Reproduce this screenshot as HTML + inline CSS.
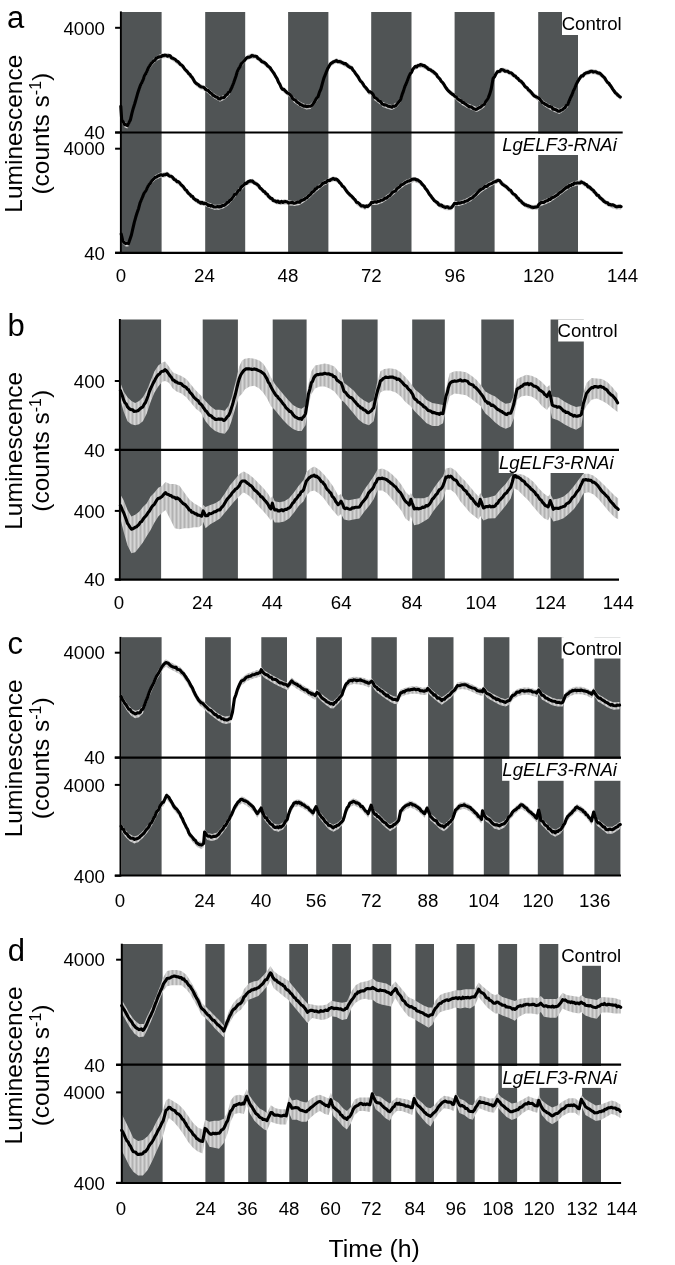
<!DOCTYPE html>
<html><head><meta charset="utf-8"><style>
html,body{margin:0;padding:0;background:#fff;}
svg{display:block;will-change:transform;}
text{font-family:"Liberation Sans", sans-serif;fill:#000;}
</style></head><body>
<svg width="675" height="1265" viewBox="0 0 675 1265">
<rect width="675" height="1265" fill="#fff"/>
<defs><pattern id="eb" width="4" height="10" patternUnits="userSpaceOnUse"><rect width="4" height="10" fill="#c4c4c4"/><rect width="1" height="10" fill="#b2b2b2"/><rect x="2" width="1" height="10" fill="#d6d6d6"/></pattern></defs>
<g>
<rect x="121.5" y="12" width="40.1" height="240.8" fill="#505455"/>
<rect x="205.2" y="12" width="40.0" height="240.8" fill="#505455"/>
<rect x="288.1" y="12" width="40.3" height="240.8" fill="#505455"/>
<rect x="371.2" y="12" width="40.3" height="240.8" fill="#505455"/>
<rect x="454.6" y="12" width="40.0" height="240.8" fill="#505455"/>
<rect x="538.2" y="12" width="39.8" height="240.8" fill="#505455"/>
<rect x="562" y="12" width="68.0" height="23.0" fill="#fff"/>
<rect x="500" y="133.5" width="130.0" height="21.5" fill="#fff"/>
<path d="M120.8,104.0 L121.7,117.5 L124.6,122.3 L127.5,123.3 L130.4,117.5 L133.3,105.9 L136.2,96.3 L139.1,86.7 L142.0,79.9 L145.8,71.3 L149.7,63.6 L153.5,58.7 L157.4,55.5 L162.2,53.3 L166.0,53.0 L168.9,53.3 L172.8,55.9 L176.6,58.7 L181.4,62.6 L186.3,68.4 L191.1,74.1 L194.9,79.9 L199.7,83.8 L204.6,85.7 L209.4,89.6 L214.2,93.4 L220.0,96.7 L224.8,94.4 L229.6,89.6 L233.5,80.9 L237.3,69.3 L241.2,61.6 L242.9,59.7 L246.7,55.5 L251.6,53.3 L255.4,53.9 L259.3,56.8 L264.1,60.1 L268.9,64.5 L272.7,69.3 L275.6,74.1 L278.5,79.9 L281.4,85.7 L285.3,88.6 L287.2,90.5 L290.1,92.4 L293.9,97.3 L297.8,100.1 L301.6,102.5 L306.4,104.4 L310.3,104.0 L314.2,100.1 L318.0,94.4 L320.9,86.7 L323.8,76.1 L327.6,66.4 L331.5,60.7 L336.3,58.2 L341.1,59.7 L346.9,62.6 L351.7,65.5 L355.6,71.3 L359.4,77.0 L364.2,83.8 L368.9,89.6 L371.7,90.5 L374.6,95.3 L378.5,98.2 L383.3,102.1 L388.1,104.0 L392.0,105.0 L396.8,102.1 L400.6,97.3 L403.5,88.6 L406.4,80.9 L410.3,71.3 L414.1,65.5 L418.0,63.2 L421.8,62.6 L425.7,64.5 L430.5,67.4 L435.3,71.3 L440.1,77.0 L444.9,83.8 L449.7,89.6 L453.6,92.4 L457.5,96.3 L462.3,100.1 L467.1,103.0 L471.9,105.0 L476.7,106.9 L480.6,105.0 L484.4,102.1 L488.3,95.3 L491.2,86.7 L493.1,76.2 L497.3,69.5 L502.4,67.4 L507.6,68.9 L512.8,72.0 L518.0,76.2 L523.2,81.3 L528.4,87.6 L532.5,91.7 L536.7,94.8 L539.8,96.9 L543.9,101.0 L549.1,104.2 L554.3,106.8 L559.5,108.9 L563.6,106.2 L567.8,102.1 L571.9,92.7 L576.1,82.4 L580.2,75.1 L585.4,71.0 L590.6,68.9 L595.8,69.5 L601.0,72.0 L606.2,78.2 L611.3,84.4 L615.5,90.7 L620.3,94.8 L620.3,99.9 L615.5,95.8 L611.3,89.5 L606.2,83.3 L601.0,77.1 L595.8,74.6 L590.6,74.0 L585.4,76.1 L580.2,80.2 L576.1,87.5 L571.9,97.8 L567.8,107.2 L563.6,111.3 L559.5,114.0 L554.3,111.9 L549.1,109.3 L543.9,106.1 L539.8,102.0 L536.7,99.9 L532.5,96.8 L528.4,92.7 L523.2,86.4 L518.0,81.3 L512.8,77.1 L507.6,74.0 L502.4,72.5 L497.3,74.6 L493.1,81.3 L491.2,91.8 L488.3,100.4 L484.4,107.2 L480.6,110.1 L476.7,112.0 L471.9,110.1 L467.1,108.1 L462.3,105.2 L457.5,101.4 L453.6,97.5 L449.7,94.7 L444.9,88.9 L440.1,82.1 L435.3,76.4 L430.5,72.5 L425.7,69.6 L421.8,67.7 L418.0,68.3 L414.1,70.6 L410.3,76.4 L406.4,86.0 L403.5,93.7 L400.6,102.4 L396.8,107.2 L392.0,110.1 L388.1,109.1 L383.3,107.2 L378.5,103.3 L374.6,100.4 L371.7,95.6 L368.9,94.7 L364.2,88.9 L359.4,82.1 L355.6,76.4 L351.7,70.6 L346.9,67.7 L341.1,64.8 L336.3,63.3 L331.5,65.8 L327.6,71.5 L323.8,81.2 L320.9,91.8 L318.0,99.5 L314.2,105.2 L310.3,109.1 L306.4,109.5 L301.6,107.6 L297.8,105.2 L293.9,102.4 L290.1,97.5 L287.2,95.6 L285.3,93.7 L281.4,90.8 L278.5,85.0 L275.6,79.2 L272.7,74.4 L268.9,69.6 L264.1,65.2 L259.3,61.9 L255.4,59.0 L251.6,58.4 L246.7,60.6 L242.9,64.8 L241.2,66.7 L237.3,74.4 L233.5,86.0 L229.6,94.7 L224.8,99.5 L220.0,101.8 L214.2,98.5 L209.4,94.7 L204.6,90.8 L199.7,88.9 L194.9,85.0 L191.1,79.2 L186.3,73.5 L181.4,67.7 L176.6,63.8 L172.8,61.0 L168.9,58.4 L166.0,58.1 L162.2,58.4 L157.4,60.6 L153.5,63.8 L149.7,68.7 L145.8,76.4 L142.0,85.0 L139.1,91.8 L136.2,101.4 L133.3,111.0 L130.4,122.6 L127.5,128.4 L124.6,127.4 L121.7,122.6 L120.8,109.1 Z" fill="url(#eb)" />
<path d="M120.8,106.3 L121.7,119.8 L123.2,121.9 L124.6,124.6 L126.0,124.6 L127.5,125.6 L128.9,122.9 L130.4,119.8 L131.9,113.4 L133.3,108.2 L134.8,103.5 L136.2,98.6 L137.6,93.6 L139.1,89.0 L140.6,84.9 L142.0,82.2 L143.3,79.3 L144.5,75.8 L145.8,73.6 L147.1,70.9 L148.4,67.8 L149.7,65.9 L151.0,63.7 L152.2,62.5 L153.5,61.0 L154.8,60.4 L156.1,58.3 L157.4,57.8 L158.6,56.8 L159.8,56.9 L161.0,56.8 L162.2,55.6 L163.5,55.6 L164.7,55.2 L166.0,55.3 L167.4,56.2 L168.9,55.6 L170.2,55.8 L171.5,57.9 L172.8,58.2 L174.1,58.8 L175.3,59.5 L176.6,61.0 L177.8,61.4 L179.0,62.7 L180.2,64.4 L181.4,64.9 L182.6,65.9 L183.9,67.9 L185.1,69.5 L186.3,70.7 L187.5,71.9 L188.7,73.6 L189.9,74.3 L191.1,76.4 L192.4,77.7 L193.6,79.8 L194.9,82.2 L196.1,83.4 L197.3,84.0 L198.5,84.8 L199.7,86.1 L200.9,86.7 L202.1,87.0 L203.4,87.2 L204.6,88.0 L205.8,89.4 L207.0,90.2 L208.2,90.5 L209.4,91.9 L210.6,93.0 L211.8,93.8 L213.0,95.3 L214.2,95.7 L215.6,96.9 L217.1,97.0 L218.6,98.9 L220.0,99.0 L221.2,97.9 L222.4,97.7 L223.6,97.7 L224.8,96.7 L226.0,95.0 L227.2,94.3 L228.4,92.4 L229.6,91.9 L230.9,89.3 L232.2,86.5 L233.5,83.2 L234.8,79.4 L236.0,76.0 L237.3,71.6 L238.6,68.8 L239.9,66.8 L241.2,63.9 L242.9,62.0 L244.2,60.7 L245.4,59.3 L246.7,57.8 L247.9,57.2 L249.1,57.2 L250.4,56.8 L251.6,55.6 L252.9,55.8 L254.1,56.2 L255.4,56.2 L256.7,56.5 L258.0,58.4 L259.3,59.1 L260.5,60.1 L261.7,61.5 L262.9,62.1 L264.1,62.4 L265.3,63.2 L266.5,64.4 L267.7,66.0 L268.9,66.8 L270.2,67.7 L271.4,69.9 L272.7,71.6 L274.1,73.5 L275.6,76.4 L277.1,78.7 L278.5,82.2 L279.9,84.4 L281.4,88.0 L282.7,89.4 L284.0,89.4 L285.3,90.9 L287.2,92.8 L288.6,93.4 L290.1,94.7 L291.4,96.2 L292.6,98.5 L293.9,99.6 L295.2,99.9 L296.5,101.4 L297.8,102.4 L299.1,103.3 L300.3,104.6 L301.6,104.8 L302.8,105.8 L304.0,106.3 L305.2,105.9 L306.4,106.7 L307.7,106.4 L309.0,106.2 L310.3,106.3 L311.6,105.6 L312.9,104.4 L314.2,102.4 L315.5,100.0 L316.7,98.1 L318.0,96.7 L319.4,92.4 L320.9,89.0 L322.4,83.3 L323.8,78.4 L325.1,75.1 L326.3,72.1 L327.6,68.7 L328.9,66.4 L330.2,64.2 L331.5,63.0 L332.7,62.3 L333.9,61.6 L335.1,61.2 L336.3,60.5 L337.5,61.6 L338.7,61.5 L339.9,61.6 L341.1,62.0 L342.6,62.9 L344.0,63.7 L345.4,63.5 L346.9,64.9 L348.1,66.2 L349.3,66.8 L350.5,67.6 L351.7,67.8 L353.0,70.2 L354.3,71.5 L355.6,73.6 L356.9,75.3 L358.1,76.8 L359.4,79.3 L360.6,81.2 L361.8,82.0 L363.0,83.8 L364.2,86.1 L365.4,87.1 L366.5,88.5 L367.7,90.2 L368.9,91.9 L370.3,91.7 L371.7,92.8 L373.1,94.5 L374.6,97.6 L375.9,98.0 L377.2,98.9 L378.5,100.5 L379.7,101.3 L380.9,101.7 L382.1,104.0 L383.3,104.4 L384.5,105.0 L385.7,104.8 L386.9,105.5 L388.1,106.3 L389.4,106.4 L390.7,106.8 L392.0,107.3 L393.2,106.0 L394.4,106.4 L395.6,105.9 L396.8,104.4 L398.1,102.7 L399.3,101.2 L400.6,99.6 L402.1,94.6 L403.5,90.9 L404.9,86.5 L406.4,83.2 L407.7,79.8 L409.0,76.4 L410.3,73.6 L411.6,72.2 L412.8,69.2 L414.1,67.8 L415.4,66.3 L416.7,66.9 L418.0,65.5 L419.3,65.3 L420.5,64.6 L421.8,64.9 L423.1,65.6 L424.4,65.5 L425.7,66.8 L426.9,67.6 L428.1,69.0 L429.3,69.5 L430.5,69.7 L431.7,71.0 L432.9,71.3 L434.1,72.4 L435.3,73.6 L436.5,74.5 L437.7,76.9 L438.9,77.9 L440.1,79.3 L441.3,81.4 L442.5,82.4 L443.7,84.0 L444.9,86.1 L446.1,88.0 L447.3,89.7 L448.5,91.0 L449.7,91.9 L451.0,93.3 L452.3,94.2 L453.6,94.7 L454.9,96.4 L456.2,96.9 L457.5,98.6 L458.7,99.6 L459.9,100.3 L461.1,100.7 L462.3,102.4 L463.5,102.4 L464.7,103.5 L465.9,104.2 L467.1,105.3 L468.3,106.1 L469.5,107.0 L470.7,106.7 L471.9,107.3 L473.1,108.4 L474.3,109.0 L475.5,109.4 L476.7,109.2 L478.0,108.4 L479.3,107.5 L480.6,107.3 L481.9,105.9 L483.1,104.9 L484.4,104.4 L485.7,101.7 L487.0,100.1 L488.3,97.6 L489.8,93.9 L491.2,89.0 L493.1,78.5 L494.5,76.8 L495.9,74.0 L497.3,71.8 L498.6,71.5 L499.9,71.2 L501.1,69.6 L502.4,69.7 L503.7,70.3 L505.0,71.1 L506.3,71.2 L507.6,71.2 L508.9,72.4 L510.2,72.7 L511.5,73.0 L512.8,74.3 L514.1,75.8 L515.4,76.1 L516.7,77.9 L518.0,78.5 L519.3,80.5 L520.6,80.9 L521.9,82.2 L523.2,83.6 L524.5,85.8 L525.8,87.1 L527.1,87.8 L528.4,89.9 L529.8,90.7 L531.1,92.1 L532.5,94.0 L533.9,95.6 L535.3,96.5 L536.7,97.1 L538.2,97.6 L539.8,99.2 L541.2,101.1 L542.5,102.7 L543.9,103.3 L545.2,104.3 L546.5,104.7 L547.8,105.8 L549.1,106.5 L550.4,106.6 L551.7,107.1 L553.0,109.2 L554.3,109.1 L555.6,109.8 L556.9,110.2 L558.2,111.3 L559.5,111.2 L560.9,110.2 L562.2,110.0 L563.6,108.5 L565.0,107.6 L566.4,105.3 L567.8,104.4 L569.2,100.9 L570.5,97.8 L571.9,95.0 L573.3,91.2 L574.7,88.3 L576.1,84.7 L577.5,81.9 L578.8,79.7 L580.2,77.4 L581.5,75.8 L582.8,76.0 L584.1,74.1 L585.4,73.3 L586.7,72.7 L588.0,72.4 L589.3,72.3 L590.6,71.2 L591.9,71.2 L593.2,72.1 L594.5,71.7 L595.8,71.8 L597.1,72.5 L598.4,73.1 L599.7,73.0 L601.0,74.3 L602.3,75.8 L603.6,76.9 L604.9,78.2 L606.2,80.5 L607.5,82.5 L608.8,83.1 L610.0,85.1 L611.3,86.7 L612.7,89.1 L614.1,91.0 L615.5,93.0 L616.7,93.8 L617.9,95.1 L619.1,96.2 L620.3,97.1" fill="none" stroke="#000" stroke-width="3.1" stroke-linejoin="round" stroke-linecap="round"/>
<path d="M121.2,231.7 L122.7,238.4 L125.6,241.3 L128.5,241.3 L131.4,232.7 L134.3,220.1 L137.1,210.5 L140.0,200.9 L143.9,191.3 L147.7,184.5 L151.6,178.7 L155.4,174.9 L160.3,172.6 L164.1,172.4 L167.0,171.6 L170.9,173.9 L175.7,177.8 L180.5,181.6 L185.3,187.4 L190.1,192.2 L194.9,197.0 L199.7,199.9 L204.6,200.9 L209.4,202.8 L214.2,204.7 L219.0,204.7 L223.8,203.2 L228.6,199.9 L233.5,194.1 L238.3,188.4 L243.9,182.6 L247.7,179.7 L252.5,178.7 L256.4,181.6 L261.2,186.4 L266.0,191.3 L270.8,196.1 L275.6,199.0 L280.4,199.9 L285.3,199.3 L290.1,200.5 L294.9,200.9 L299.7,199.9 L304.5,197.0 L309.3,193.2 L314.2,188.4 L319.0,184.5 L323.8,180.7 L328.6,178.2 L333.4,176.2 L337.3,177.4 L341.1,181.6 L345.0,186.4 L348.8,191.3 L352.7,195.1 L356.5,199.9 L360.4,202.8 L365.0,204.7 L368.9,203.2 L371.7,199.9 L376.6,199.9 L382.3,198.0 L388.1,194.1 L393.9,189.3 L399.7,184.5 L405.4,180.1 L410.3,178.2 L414.1,176.8 L418.9,178.7 L422.8,182.6 L426.6,187.4 L430.5,193.2 L435.3,199.0 L440.1,202.8 L445.9,205.1 L451.7,205.1 L454.6,200.9 L459.4,200.9 L465.2,199.0 L470.9,196.1 L476.7,191.3 L482.5,186.4 L488.3,182.6 L494.1,179.6 L498.3,177.9 L501.4,180.6 L506.6,184.7 L511.8,189.9 L517.0,195.1 L522.2,200.3 L527.3,203.4 L532.5,204.9 L537.7,204.4 L539.8,201.3 L545.0,199.3 L550.2,197.2 L555.3,193.7 L560.5,189.9 L565.7,185.8 L571.9,182.0 L577.1,180.6 L581.3,179.6 L585.4,182.0 L590.6,185.8 L595.8,191.0 L601.0,196.1 L606.2,200.3 L611.3,202.8 L616.5,204.4 L621.1,204.4 L621.1,209.5 L616.5,209.5 L611.3,207.9 L606.2,205.4 L601.0,201.2 L595.8,196.1 L590.6,190.9 L585.4,187.1 L581.3,184.7 L577.1,185.7 L571.9,187.1 L565.7,190.9 L560.5,195.0 L555.3,198.8 L550.2,202.3 L545.0,204.4 L539.8,206.4 L537.7,209.5 L532.5,210.0 L527.3,208.5 L522.2,205.4 L517.0,200.2 L511.8,195.0 L506.6,189.8 L501.4,185.7 L498.3,183.0 L494.1,184.7 L488.3,187.7 L482.5,191.5 L476.7,196.4 L470.9,201.2 L465.2,204.1 L459.4,206.0 L454.6,206.0 L451.7,210.2 L445.9,210.2 L440.1,207.9 L435.3,204.1 L430.5,198.3 L426.6,192.5 L422.8,187.7 L418.9,183.8 L414.1,181.9 L410.3,183.3 L405.4,185.2 L399.7,189.6 L393.9,194.4 L388.1,199.2 L382.3,203.1 L376.6,205.0 L371.7,205.0 L368.9,208.3 L365.0,209.8 L360.4,207.9 L356.5,205.0 L352.7,200.2 L348.8,196.4 L345.0,191.5 L341.1,186.7 L337.3,182.5 L333.4,181.3 L328.6,183.3 L323.8,185.8 L319.0,189.6 L314.2,193.5 L309.3,198.3 L304.5,202.1 L299.7,205.0 L294.9,206.0 L290.1,205.6 L285.3,204.4 L280.4,205.0 L275.6,204.1 L270.8,201.2 L266.0,196.4 L261.2,191.5 L256.4,186.7 L252.5,183.8 L247.7,184.8 L243.9,187.7 L238.3,193.5 L233.5,199.2 L228.6,205.0 L223.8,208.3 L219.0,209.8 L214.2,209.8 L209.4,207.9 L204.6,206.0 L199.7,205.0 L194.9,202.1 L190.1,197.3 L185.3,192.5 L180.5,186.7 L175.7,182.9 L170.9,179.0 L167.0,176.7 L164.1,177.5 L160.3,177.7 L155.4,180.0 L151.6,183.8 L147.7,189.6 L143.9,196.4 L140.0,206.0 L137.1,215.6 L134.3,225.2 L131.4,237.8 L128.5,246.4 L125.6,246.4 L122.7,243.5 L121.2,236.8 Z" fill="url(#eb)" />
<path d="M121.2,234.0 L122.7,240.7 L124.2,242.6 L125.6,243.6 L127.0,243.0 L128.5,243.6 L129.9,239.4 L131.4,235.0 L132.9,228.3 L134.3,222.4 L135.7,217.3 L137.1,212.8 L138.6,208.4 L140.0,203.2 L141.3,200.0 L142.6,196.9 L143.9,193.6 L145.2,191.7 L146.4,189.7 L147.7,186.8 L149.0,184.8 L150.3,183.1 L151.6,181.0 L152.9,179.7 L154.1,178.5 L155.4,177.2 L156.6,176.9 L157.9,176.0 L159.1,175.5 L160.3,174.9 L161.6,174.8 L162.8,175.4 L164.1,174.7 L165.6,174.6 L167.0,173.9 L168.3,175.2 L169.6,176.1 L170.9,176.2 L172.1,176.8 L173.3,178.2 L174.5,179.8 L175.7,180.1 L176.9,181.6 L178.1,181.5 L179.3,182.4 L180.5,183.9 L181.7,185.3 L182.9,186.2 L184.1,187.9 L185.3,189.7 L186.5,190.3 L187.7,192.4 L188.9,193.7 L190.1,194.5 L191.3,196.3 L192.5,196.4 L193.7,198.4 L194.9,199.3 L196.1,200.3 L197.3,200.2 L198.5,202.0 L199.7,202.2 L200.9,203.2 L202.1,202.3 L203.4,203.6 L204.6,203.2 L205.8,203.5 L207.0,204.1 L208.2,205.4 L209.4,205.1 L210.6,206.1 L211.8,205.5 L213.0,206.4 L214.2,207.0 L215.4,207.0 L216.6,206.8 L217.8,206.5 L219.0,207.0 L220.2,206.4 L221.4,206.6 L222.6,205.2 L223.8,205.5 L225.0,204.8 L226.2,203.8 L227.4,202.3 L228.6,202.2 L229.8,200.5 L231.1,199.5 L232.3,197.9 L233.5,196.4 L234.7,194.3 L235.9,194.3 L237.1,192.6 L238.3,190.7 L239.7,190.0 L241.1,187.2 L242.5,186.0 L243.9,184.9 L245.2,183.2 L246.4,183.4 L247.7,182.0 L248.9,181.4 L250.1,180.9 L251.3,181.1 L252.5,181.0 L253.8,182.6 L255.1,183.4 L256.4,183.9 L257.6,184.7 L258.8,185.8 L260.0,188.1 L261.2,188.7 L262.4,190.0 L263.6,191.5 L264.8,191.8 L266.0,193.6 L267.2,194.1 L268.4,196.3 L269.6,197.1 L270.8,198.4 L272.0,198.5 L273.2,200.5 L274.4,200.8 L275.6,201.3 L276.8,202.0 L278.0,201.1 L279.2,202.5 L280.4,202.2 L281.6,201.4 L282.9,202.4 L284.1,201.7 L285.3,201.6 L286.5,201.7 L287.7,202.3 L288.9,203.1 L290.1,202.8 L291.3,202.6 L292.5,202.4 L293.7,203.1 L294.9,203.2 L296.1,202.6 L297.3,202.1 L298.5,201.9 L299.7,202.2 L300.9,200.8 L302.1,200.3 L303.3,199.7 L304.5,199.3 L305.7,198.1 L306.9,197.8 L308.1,196.1 L309.3,195.5 L310.5,194.3 L311.8,192.6 L313.0,191.7 L314.2,190.7 L315.4,189.0 L316.6,188.4 L317.8,187.0 L319.0,186.8 L320.2,186.2 L321.4,185.0 L322.6,183.5 L323.8,183.0 L325.0,182.3 L326.2,182.4 L327.4,180.5 L328.6,180.5 L329.8,180.5 L331.0,179.4 L332.2,179.0 L333.4,178.5 L334.7,179.4 L336.0,179.1 L337.3,179.7 L338.6,181.1 L339.8,182.8 L341.1,183.9 L342.4,186.2 L343.7,186.9 L345.0,188.7 L346.3,190.8 L347.5,192.3 L348.8,193.6 L350.1,195.1 L351.4,196.0 L352.7,197.4 L354.0,198.8 L355.2,199.9 L356.5,202.2 L357.8,202.6 L359.1,203.5 L360.4,205.1 L361.5,205.9 L362.7,205.7 L363.9,206.0 L365.0,207.0 L366.3,205.9 L367.6,206.5 L368.9,205.5 L370.3,204.4 L371.7,202.2 L372.9,202.5 L374.1,201.9 L375.4,201.8 L376.6,202.2 L378.0,201.4 L379.5,201.2 L380.9,200.3 L382.3,200.3 L383.8,199.2 L385.2,198.0 L386.7,198.1 L388.1,196.4 L389.6,195.9 L391.0,194.1 L392.4,192.4 L393.9,191.6 L395.3,191.1 L396.8,188.9 L398.2,187.8 L399.7,186.8 L401.1,185.0 L402.5,184.4 L404.0,183.5 L405.4,182.4 L406.6,181.9 L407.9,181.0 L409.1,181.0 L410.3,180.5 L411.6,179.3 L412.8,179.2 L414.1,179.1 L415.3,179.0 L416.5,179.9 L417.7,179.8 L418.9,181.0 L420.2,181.6 L421.5,183.3 L422.8,184.9 L424.1,186.1 L425.3,188.2 L426.6,189.7 L427.9,191.7 L429.2,193.9 L430.5,195.5 L431.7,197.2 L432.9,198.7 L434.1,200.4 L435.3,201.3 L436.5,202.1 L437.7,202.9 L438.9,204.9 L440.1,205.1 L441.6,205.1 L443.0,206.6 L444.4,207.0 L445.9,207.4 L447.3,206.7 L448.8,207.9 L450.2,208.0 L451.7,207.4 L453.1,205.5 L454.6,203.2 L455.8,203.6 L457.0,203.7 L458.2,202.7 L459.4,203.2 L460.8,202.8 L462.3,202.3 L463.8,202.3 L465.2,201.3 L466.6,201.0 L468.0,200.3 L469.5,199.3 L470.9,198.4 L472.3,197.8 L473.8,196.3 L475.2,195.1 L476.7,193.6 L478.1,192.0 L479.6,190.4 L481.1,189.4 L482.5,188.7 L483.9,187.5 L485.4,186.2 L486.9,186.4 L488.3,184.9 L489.8,184.2 L491.2,183.6 L492.7,182.8 L494.1,181.9 L495.5,181.6 L496.9,180.8 L498.3,180.2 L499.9,180.8 L501.4,182.9 L502.7,184.4 L504.0,185.3 L505.3,186.0 L506.6,187.0 L507.9,188.4 L509.2,189.8 L510.5,190.2 L511.8,192.2 L513.1,193.9 L514.4,194.4 L515.7,195.5 L517.0,197.4 L518.3,198.3 L519.6,200.3 L520.9,200.9 L522.2,202.6 L523.5,203.7 L524.8,204.9 L526.0,204.9 L527.3,205.7 L528.6,205.9 L529.9,206.4 L531.2,207.1 L532.5,207.2 L533.8,207.5 L535.1,207.1 L536.4,207.0 L537.7,206.7 L538.8,204.5 L539.8,203.6 L541.1,202.6 L542.4,202.2 L543.7,202.5 L545.0,201.6 L546.3,200.8 L547.6,200.7 L548.9,199.3 L550.2,199.5 L551.5,198.0 L552.8,197.4 L554.0,197.1 L555.3,196.0 L556.6,195.3 L557.9,194.4 L559.2,192.8 L560.5,192.2 L561.8,191.2 L563.1,190.1 L564.4,189.1 L565.7,188.1 L566.9,186.8 L568.2,187.2 L569.4,185.4 L570.7,185.8 L571.9,184.3 L573.2,184.6 L574.5,182.9 L575.8,183.2 L577.1,182.9 L578.5,183.0 L579.9,182.9 L581.3,181.9 L582.7,182.6 L584.0,183.2 L585.4,184.3 L586.7,184.8 L588.0,186.9 L589.3,186.7 L590.6,188.1 L591.9,189.5 L593.2,190.2 L594.5,192.0 L595.8,193.3 L597.1,195.3 L598.4,195.3 L599.7,197.6 L601.0,198.4 L602.3,199.5 L603.6,201.1 L604.9,201.9 L606.2,202.6 L607.5,202.8 L608.8,204.4 L610.0,204.5 L611.3,205.1 L612.6,204.8 L613.9,205.2 L615.2,206.3 L616.5,206.7 L617.6,206.6 L618.8,206.4 L620.0,206.2 L621.1,206.7" fill="none" stroke="#000" stroke-width="3.1" stroke-linejoin="round" stroke-linecap="round"/>
<line x1="120.9" y1="11.4" x2="120.9" y2="253.8" stroke="#000" stroke-width="2"/>
<line x1="115.1" y1="252.8" x2="622.7" y2="252.8" stroke="#000" stroke-width="2.2"/>
<line x1="115.1" y1="132.5" x2="622.7" y2="132.5" stroke="#000" stroke-width="2.2"/>
<line x1="115.1" y1="27.8" x2="120.9" y2="27.8" stroke="#000" stroke-width="2"/>
<text x="105" y="34.5" font-size="18.7" text-anchor="end">4000</text>
<line x1="115.1" y1="132.5" x2="120.9" y2="132.5" stroke="#000" stroke-width="2"/>
<text x="105" y="139.2" font-size="18.7" text-anchor="end">40</text>
<line x1="115.1" y1="148.7" x2="120.9" y2="148.7" stroke="#000" stroke-width="2"/>
<text x="105" y="155.4" font-size="18.7" text-anchor="end">4000</text>
<line x1="115.1" y1="252.8" x2="120.9" y2="252.8" stroke="#000" stroke-width="2"/>
<text x="105" y="259.5" font-size="18.7" text-anchor="end">40</text>
<text x="121" y="282.3" font-size="18.7" text-anchor="middle">0</text>
<text x="204.5" y="282.3" font-size="18.7" text-anchor="middle">24</text>
<text x="288" y="282.3" font-size="18.7" text-anchor="middle">48</text>
<text x="371.3" y="282.3" font-size="18.7" text-anchor="middle">72</text>
<text x="455" y="282.3" font-size="18.7" text-anchor="middle">96</text>
<text x="538.5" y="282.3" font-size="18.7" text-anchor="middle">120</text>
<text x="622.5" y="282.3" font-size="18.7" text-anchor="middle">144</text>
<text x="561.7" y="30.4" font-size="18.6">Control</text>
<text x="502.2" y="150.7" font-size="18.6" font-style="italic">LgELF3-RNAi</text>
<text x="6.9" y="27.6" font-size="31">a</text>
<text transform="translate(22,133.7) rotate(-90)" font-size="24.5" text-anchor="middle">Luminescence</text>
<text transform="translate(48.6,133.7) rotate(-90)" font-size="24.5" text-anchor="middle">(counts s<tspan font-size="16" dy="-7.5">-1</tspan><tspan dy="7.5">)</tspan></text>
</g>
<g>
<rect x="121" y="319.5" width="40.1" height="260.2" fill="#505455"/>
<rect x="202.7" y="319.5" width="35.2" height="260.2" fill="#505455"/>
<rect x="272.7" y="319.5" width="33.9" height="260.2" fill="#505455"/>
<rect x="341.8" y="319.5" width="35.8" height="260.2" fill="#505455"/>
<rect x="412.2" y="319.5" width="32.6" height="260.2" fill="#505455"/>
<rect x="481.3" y="319.5" width="32.5" height="260.2" fill="#505455"/>
<rect x="550.6" y="319.5" width="33.2" height="260.2" fill="#505455"/>
<rect x="558.2" y="319.5" width="71.8" height="22.0" fill="#fff"/>
<rect x="498.7" y="450.8" width="131.3" height="22.2" fill="#fff"/>
<path d="M120.4,382.8 L123.7,391.4 L127.5,397.2 L131.4,401.1 L135.2,403.0 L139.1,401.1 L142.9,397.2 L146.8,390.5 L150.6,380.9 L154.5,371.2 L158.3,365.4 L162.2,362.6 L165.1,361.6 L168.9,366.4 L172.8,372.2 L176.6,374.1 L181.4,376.0 L186.3,378.9 L191.1,384.7 L195.9,390.5 L200.7,395.3 L205.5,401.1 L210.3,405.9 L215.2,409.7 L220.0,409.7 L224.8,410.7 L228.6,405.9 L231.5,398.2 L235.4,382.8 L239.2,366.4 L242.1,360.6 L244.8,358.7 L249.6,358.1 L254.4,358.7 L259.3,360.6 L263.1,363.5 L267.0,369.3 L270.8,377.0 L274.7,383.7 L278.5,388.6 L283.3,394.3 L288.2,400.1 L293.0,404.9 L297.8,407.8 L301.6,408.8 L305.5,405.9 L308.4,384.7 L311.3,371.2 L315.1,365.4 L319.9,364.5 L324.7,363.5 L329.6,364.5 L334.4,366.4 L338.2,371.2 L341.1,373.2 L344.0,382.8 L348.8,386.6 L353.6,390.5 L358.5,396.3 L363.3,400.1 L368.9,403.0 L373.7,400.1 L376.6,384.7 L380.4,371.2 L384.3,368.9 L390.0,368.3 L395.8,369.3 L400.6,372.2 L405.4,377.0 L410.3,382.8 L415.1,389.5 L420.9,394.3 L426.6,400.1 L432.4,403.0 L438.2,404.0 L443.0,404.9 L445.9,388.6 L449.7,373.2 L454.6,371.2 L460.3,371.2 L466.1,372.2 L471.9,376.0 L476.7,379.9 L480.6,384.7 L485.4,391.4 L490.2,394.3 L495.2,396.6 L500.4,400.7 L505.6,403.8 L510.7,402.8 L513.9,395.5 L517.0,378.9 L521.1,376.9 L526.3,374.8 L531.5,375.8 L536.7,377.9 L541.9,382.0 L547.0,387.2 L549.5,385.0 L552.2,396.6 L558.4,397.6 L564.7,401.7 L570.9,404.9 L576.1,406.9 L581.3,405.9 L583.3,393.4 L586.5,383.1 L591.6,377.9 L596.8,378.5 L602.0,378.9 L607.2,382.0 L612.4,387.2 L617.6,393.4 L617.6,412.1 L612.4,408.0 L607.2,403.8 L602.0,400.7 L596.8,398.6 L591.6,399.7 L586.5,405.9 L583.3,412.1 L581.3,426.6 L576.1,429.8 L570.9,427.7 L564.7,424.6 L558.4,420.4 L552.2,418.3 L549.5,406.0 L547.0,410.0 L541.9,405.9 L536.7,399.7 L531.5,396.6 L526.3,395.5 L521.1,396.6 L517.0,399.7 L513.9,418.3 L510.7,426.6 L505.6,428.7 L500.4,426.6 L495.2,422.5 L490.2,417.4 L485.4,413.6 L480.6,405.9 L476.7,403.0 L471.9,399.2 L466.1,395.3 L460.3,394.3 L454.6,393.4 L449.7,396.3 L445.9,409.7 L443.0,423.2 L438.2,426.1 L432.4,426.1 L426.6,423.2 L420.9,417.4 L415.1,411.7 L410.3,405.9 L405.4,402.0 L400.6,396.3 L395.8,392.4 L390.0,390.5 L384.3,390.5 L380.4,392.4 L376.6,405.9 L373.7,421.3 L368.9,425.2 L363.3,423.2 L358.5,419.4 L353.6,413.6 L348.8,407.8 L344.0,402.0 L341.1,400.1 L338.2,396.3 L334.4,391.4 L329.6,388.6 L324.7,386.6 L319.9,386.6 L315.1,388.6 L311.3,394.3 L308.4,405.9 L305.5,425.2 L301.6,430.9 L297.8,430.9 L293.0,429.0 L288.2,425.2 L283.3,420.3 L278.5,414.6 L274.7,409.7 L270.8,405.9 L267.0,398.2 L263.1,392.4 L259.3,388.6 L254.4,385.7 L249.6,386.6 L244.8,389.5 L242.1,393.7 L239.2,396.5 L235.4,407.8 L231.5,421.3 L228.6,429.0 L224.8,433.8 L220.0,432.9 L215.2,430.9 L210.3,427.1 L205.5,421.3 L200.7,412.6 L195.9,408.8 L191.1,403.0 L186.3,397.2 L181.4,393.4 L176.6,391.4 L172.8,388.6 L168.9,382.8 L165.1,380.9 L162.2,381.8 L158.3,386.6 L154.5,392.4 L150.6,402.0 L146.8,413.6 L142.9,421.3 L139.1,424.2 L135.2,425.2 L131.4,424.2 L127.5,421.3 L123.7,411.7 L120.4,400.1 Z" fill="url(#eb)" />
<path d="M120.4,390.5 L121.5,393.5 L122.6,396.6 L123.7,400.1 L125.0,402.9 L126.2,403.9 L127.5,406.9 L128.8,408.2 L130.1,409.3 L131.4,409.7 L132.7,409.7 L133.9,411.4 L135.2,411.3 L136.5,411.1 L137.8,410.8 L139.1,409.7 L140.4,408.5 L141.6,407.6 L142.9,406.9 L144.2,404.2 L145.5,402.5 L146.8,399.2 L148.1,395.8 L149.3,391.9 L150.6,388.6 L151.9,385.9 L153.2,383.1 L154.5,380.9 L155.8,378.2 L157.0,376.2 L158.3,374.7 L159.6,374.0 L160.9,372.0 L162.2,371.2 L163.6,371.1 L165.1,369.7 L166.4,370.8 L167.6,372.3 L168.9,374.1 L170.2,376.0 L171.5,377.5 L172.8,379.9 L174.1,380.3 L175.3,381.9 L176.6,381.8 L177.8,382.9 L179.0,383.2 L180.2,383.4 L181.4,383.7 L182.6,385.3 L183.9,386.3 L185.1,386.7 L186.3,387.6 L187.5,389.4 L188.7,389.8 L189.9,392.3 L191.1,393.4 L192.3,394.8 L193.5,396.7 L194.7,398.0 L195.9,399.2 L197.1,400.1 L198.3,400.9 L199.5,403.4 L200.7,404.0 L201.9,405.1 L203.1,407.3 L204.3,408.8 L205.5,410.7 L206.7,411.6 L207.9,413.5 L209.1,415.0 L210.3,415.5 L211.5,416.1 L212.8,417.7 L214.0,418.1 L215.2,419.4 L216.4,419.5 L217.6,419.2 L218.8,418.9 L220.0,419.4 L221.2,419.0 L222.4,419.3 L223.6,420.5 L224.8,420.0 L226.1,418.5 L227.3,416.6 L228.6,415.5 L230.1,412.3 L231.5,407.8 L232.8,404.0 L234.1,398.7 L235.4,394.3 L236.7,388.6 L237.9,383.6 L239.2,378.9 L240.6,375.2 L242.1,372.8 L243.4,371.0 L244.8,369.7 L246.0,368.9 L247.2,368.9 L248.4,368.7 L249.6,368.9 L250.8,369.0 L252.0,369.5 L253.2,369.3 L254.4,368.9 L255.6,369.2 L256.9,369.7 L258.1,370.4 L259.3,370.8 L260.6,371.4 L261.8,372.2 L263.1,373.2 L264.4,374.4 L265.7,376.7 L267.0,378.9 L268.3,382.2 L269.5,383.5 L270.8,386.6 L272.1,388.9 L273.4,391.3 L274.7,393.4 L276.0,395.5 L277.2,396.2 L278.5,398.2 L279.7,399.3 L280.9,400.7 L282.1,402.4 L283.3,404.0 L284.5,405.3 L285.8,407.5 L287.0,408.8 L288.2,409.7 L289.4,411.5 L290.6,411.4 L291.8,412.7 L293.0,414.6 L294.2,415.9 L295.4,417.1 L296.6,417.4 L297.8,418.4 L299.1,418.9 L300.3,418.3 L301.6,419.4 L302.9,417.3 L304.2,416.2 L305.5,413.6 L306.9,404.4 L308.4,394.3 L309.9,389.1 L311.3,382.8 L312.6,381.2 L313.8,377.9 L315.1,376.0 L316.3,374.9 L317.5,374.5 L318.7,374.6 L319.9,374.1 L321.1,374.1 L322.3,374.3 L323.5,373.8 L324.7,373.2 L325.9,373.6 L327.1,374.0 L328.4,373.8 L329.6,374.1 L330.8,374.8 L332.0,374.7 L333.2,376.4 L334.4,376.6 L335.7,377.6 L336.9,380.1 L338.2,380.9 L339.6,382.1 L341.1,382.8 L342.6,386.8 L344.0,391.4 L345.2,392.1 L346.4,393.5 L347.6,395.3 L348.8,396.3 L350.0,397.5 L351.2,397.6 L352.4,398.5 L353.6,400.1 L354.8,401.6 L356.1,403.1 L357.3,404.3 L358.5,405.9 L359.7,406.4 L360.9,408.0 L362.1,408.0 L363.3,409.7 L364.7,410.1 L366.1,411.1 L367.5,412.6 L368.9,412.6 L370.1,411.6 L371.3,410.8 L372.5,409.0 L373.7,407.8 L375.1,400.7 L376.6,394.3 L377.9,389.5 L379.1,386.1 L380.4,380.9 L381.7,380.2 L383.0,378.7 L384.3,378.0 L385.7,377.0 L387.1,377.5 L388.6,377.5 L390.0,377.0 L391.4,377.1 L392.9,377.1 L394.4,378.0 L395.8,378.0 L397.0,379.4 L398.2,379.0 L399.4,379.5 L400.6,380.9 L401.8,381.9 L403.0,383.2 L404.2,384.8 L405.4,385.7 L406.6,386.4 L407.9,388.5 L409.1,389.7 L410.3,390.5 L411.5,392.7 L412.7,394.4 L413.9,397.7 L415.1,399.2 L416.6,400.1 L418.0,402.1 L419.4,402.4 L420.9,404.0 L422.3,404.8 L423.8,406.8 L425.2,407.3 L426.6,408.8 L428.1,410.4 L429.5,410.7 L430.9,411.2 L432.4,412.6 L433.8,412.4 L435.3,413.0 L436.8,413.6 L438.2,413.6 L439.4,414.3 L440.6,413.1 L441.8,413.4 L443.0,413.6 L444.4,404.5 L445.9,396.3 L447.2,392.8 L448.4,387.4 L449.7,383.7 L450.9,382.3 L452.1,381.6 L453.4,381.4 L454.6,380.9 L456.0,381.2 L457.5,381.0 L458.9,380.5 L460.3,379.9 L461.8,380.9 L463.2,381.0 L464.7,380.4 L466.1,380.9 L467.6,381.4 L469.0,383.5 L470.4,384.1 L471.9,384.7 L473.1,385.0 L474.3,386.9 L475.5,387.4 L476.7,388.6 L478.0,390.0 L479.3,391.5 L480.6,393.4 L481.8,394.8 L483.0,396.5 L484.2,398.8 L485.4,401.1 L486.6,401.6 L487.8,403.2 L489.0,402.7 L490.2,404.0 L491.4,405.4 L492.7,405.0 L493.9,406.0 L495.2,406.9 L496.5,408.4 L497.8,409.5 L499.1,409.9 L500.4,411.1 L501.7,411.2 L503.0,412.6 L504.3,413.2 L505.6,414.2 L506.9,414.6 L508.1,413.2 L509.4,413.2 L510.7,413.2 L512.3,409.1 L513.9,403.8 L515.5,395.8 L517.0,389.3 L518.4,388.1 L519.7,387.7 L521.1,386.2 L522.4,386.1 L523.7,384.5 L525.0,383.9 L526.3,384.1 L527.6,383.4 L528.9,384.7 L530.2,383.7 L531.5,384.1 L532.8,385.2 L534.1,386.2 L535.4,386.2 L536.7,387.2 L538.0,387.9 L539.3,390.0 L540.6,390.5 L541.9,391.4 L543.2,392.3 L544.5,394.3 L545.7,395.0 L547.0,396.6 L548.2,394.0 L549.5,392.0 L550.9,397.7 L552.2,404.9 L553.4,405.7 L554.7,406.3 L555.9,406.3 L557.2,407.2 L558.4,406.9 L559.7,407.0 L560.9,408.2 L562.2,409.4 L563.4,410.9 L564.7,411.1 L565.9,412.5 L567.2,412.3 L568.4,412.8 L569.7,413.8 L570.9,414.6 L572.2,415.0 L573.5,416.1 L574.8,415.4 L576.1,416.3 L577.4,416.3 L578.7,415.8 L580.0,415.5 L581.3,414.6 L582.3,409.6 L583.3,403.8 L584.9,398.8 L586.5,393.4 L587.8,391.7 L589.0,390.2 L590.3,388.8 L591.6,387.6 L592.9,387.8 L594.2,386.6 L595.5,386.5 L596.8,386.8 L598.1,387.3 L599.4,386.6 L600.7,386.4 L602.0,387.2 L603.3,387.3 L604.6,388.8 L605.9,389.3 L607.2,390.3 L608.5,392.3 L609.8,393.5 L611.1,394.9 L612.4,395.5 L613.7,397.0 L615.0,398.5 L616.3,400.4 L617.6,402.8" fill="none" stroke="#000" stroke-width="3.1" stroke-linejoin="round" stroke-linecap="round"/>
<path d="M120.4,494.5 L123.7,500.3 L127.5,509.9 L131.4,516.6 L135.2,514.7 L139.1,511.8 L142.9,507.0 L146.8,503.2 L150.6,496.4 L154.5,492.6 L158.3,487.7 L162.2,485.8 L165.5,482.0 L169.9,483.9 L174.7,483.9 L179.5,485.8 L184.3,492.6 L189.2,499.3 L194.0,503.2 L198.8,506.0 L201.7,508.0 L203.2,505.0 L205.5,507.0 L210.3,505.1 L215.2,503.2 L220.0,500.3 L224.8,493.5 L229.6,485.8 L234.4,480.0 L239.2,474.3 L242.1,472.3 L243.9,471.4 L248.7,474.3 L253.5,478.1 L258.3,482.9 L263.1,487.7 L267.9,493.5 L270.8,498.3 L272.4,496.0 L274.7,501.2 L279.5,502.2 L284.3,501.2 L289.1,498.3 L293.9,492.6 L298.7,485.8 L303.6,480.0 L306.4,472.3 L310.3,468.5 L314.2,466.6 L319.0,469.4 L323.8,474.3 L328.6,480.0 L333.4,486.8 L338.2,495.4 L341.1,494.0 L344.0,499.3 L348.8,500.3 L353.6,499.3 L359.4,498.3 L364.2,489.7 L369.8,482.0 L373.7,476.2 L377.5,469.4 L382.3,468.5 L387.1,470.4 L392.0,474.3 L396.8,479.1 L401.6,484.9 L405.4,491.6 L409.3,495.4 L410.8,493.0 L414.1,498.3 L418.9,498.3 L423.7,498.3 L428.6,496.4 L433.4,488.7 L438.2,482.0 L443.0,476.2 L445.9,468.5 L450.7,467.5 L455.5,470.4 L460.3,476.2 L465.2,481.0 L470.0,486.8 L474.8,492.6 L478.6,496.4 L480.2,493.0 L483.5,498.3 L488.3,497.4 L495.2,495.4 L500.4,489.2 L505.6,484.0 L510.7,476.8 L513.9,473.7 L518.0,473.7 L523.2,474.7 L528.4,477.8 L533.6,482.0 L538.7,488.2 L543.9,493.4 L548.1,496.5 L550.2,494.0 L553.3,499.6 L558.4,498.6 L563.6,496.5 L568.8,492.3 L574.0,486.1 L579.2,478.9 L583.3,473.7 L588.5,473.7 L593.7,475.7 L598.9,479.9 L604.1,485.1 L609.3,490.3 L614.5,495.4 L618.2,498.6 L618.2,519.3 L614.5,517.2 L609.3,512.0 L604.1,505.8 L598.9,499.6 L593.7,494.4 L588.5,492.3 L583.3,493.4 L579.2,501.7 L574.0,508.9 L568.8,514.1 L563.6,518.3 L558.4,520.3 L553.3,521.4 L550.2,516.0 L548.1,520.3 L543.9,518.3 L538.7,513.1 L533.6,506.9 L528.4,500.6 L523.2,495.4 L518.0,490.3 L513.9,488.2 L510.7,498.6 L505.6,505.8 L500.4,512.0 L495.2,518.3 L488.3,518.6 L483.5,520.5 L480.2,516.0 L478.6,519.5 L474.8,516.6 L470.0,512.8 L465.2,507.0 L460.3,501.2 L455.5,493.5 L450.7,489.7 L445.9,489.7 L443.0,499.3 L438.2,505.1 L433.4,510.9 L428.6,518.6 L423.7,521.4 L418.9,524.3 L414.1,525.3 L410.8,516.0 L409.3,521.4 L405.4,518.6 L401.6,510.9 L396.8,505.1 L392.0,499.3 L387.1,493.5 L382.3,490.6 L377.5,490.6 L373.7,499.3 L369.8,505.1 L364.2,511.8 L359.4,518.6 L353.6,519.5 L348.8,520.5 L344.0,519.5 L341.1,514.0 L338.2,516.6 L333.4,510.9 L328.6,505.1 L323.8,498.3 L319.0,493.5 L314.2,490.6 L310.3,491.6 L306.4,495.4 L303.6,501.2 L298.7,506.0 L293.9,512.8 L289.1,518.6 L284.3,521.4 L279.5,522.4 L274.7,522.4 L272.4,518.0 L270.8,520.5 L267.9,516.6 L263.1,510.9 L258.3,506.0 L253.5,500.3 L248.7,495.4 L243.9,492.6 L242.1,493.5 L239.2,496.4 L234.4,501.2 L229.6,507.0 L224.8,512.8 L220.0,518.6 L215.2,521.4 L210.3,524.3 L205.5,528.2 L203.2,522.0 L201.7,525.3 L198.8,527.2 L194.0,527.2 L189.2,528.2 L184.3,528.2 L179.5,529.2 L174.7,528.2 L169.9,518.6 L165.5,509.9 L162.2,512.8 L158.3,516.6 L154.5,522.4 L150.6,530.1 L146.8,535.9 L142.9,542.6 L139.1,547.5 L135.2,552.3 L131.4,553.2 L127.5,545.5 L123.7,532.0 L120.4,518.6 Z" fill="url(#eb)" />
<path d="M120.4,505.5 L121.5,507.9 L122.6,510.7 L123.7,512.8 L125.0,516.3 L126.2,519.5 L127.5,523.4 L128.8,525.2 L130.1,527.4 L131.4,529.2 L132.7,528.8 L133.9,528.2 L135.2,527.2 L136.5,526.8 L137.8,525.5 L139.1,524.3 L140.4,522.1 L141.6,521.6 L142.9,519.5 L144.2,517.6 L145.5,516.4 L146.8,514.7 L148.1,512.6 L149.3,511.2 L150.6,508.9 L151.9,506.8 L153.2,505.3 L154.5,504.1 L155.8,501.8 L157.0,499.7 L158.3,498.3 L159.6,498.2 L160.9,497.2 L162.2,496.4 L163.3,494.9 L164.4,493.7 L165.5,492.6 L167.0,494.3 L168.4,494.5 L169.9,495.4 L171.1,495.5 L172.3,496.9 L173.5,497.1 L174.7,497.4 L175.9,498.6 L177.1,497.8 L178.3,498.8 L179.5,499.3 L180.7,501.0 L181.9,502.2 L183.1,503.5 L184.3,504.1 L185.5,504.9 L186.8,506.7 L188.0,507.9 L189.2,509.9 L190.4,510.2 L191.6,512.1 L192.8,512.2 L194.0,512.8 L195.2,514.0 L196.4,513.8 L197.6,515.1 L198.8,515.1 L200.2,515.6 L201.7,516.2 L203.2,510.9 L204.3,512.9 L205.5,515.7 L206.7,515.6 L207.9,515.4 L209.1,513.6 L210.3,513.7 L211.5,513.4 L212.8,512.9 L214.0,511.9 L215.2,511.8 L216.4,511.1 L217.6,510.3 L218.8,509.9 L220.0,509.9 L221.2,507.9 L222.4,506.7 L223.6,505.1 L224.8,503.2 L226.0,501.1 L227.2,499.1 L228.4,497.8 L229.6,496.4 L230.8,495.2 L232.0,493.0 L233.2,491.8 L234.4,490.6 L235.6,489.0 L236.8,488.6 L238.0,487.1 L239.2,485.8 L240.6,482.7 L242.1,481.0 L243.9,481.0 L245.1,481.1 L246.3,482.3 L247.5,483.3 L248.7,483.9 L249.9,485.3 L251.1,485.7 L252.3,487.0 L253.5,488.7 L254.7,490.2 L255.9,491.0 L257.1,492.0 L258.3,493.5 L259.5,494.4 L260.7,496.6 L261.9,496.8 L263.1,498.3 L264.3,499.8 L265.5,501.0 L266.7,502.5 L267.9,504.1 L269.4,507.0 L270.8,508.9 L272.4,503.2 L273.5,507.3 L274.7,509.9 L275.9,509.9 L277.1,509.9 L278.3,511.0 L279.5,510.9 L280.7,510.2 L281.9,509.7 L283.1,510.8 L284.3,509.9 L285.5,509.3 L286.7,509.4 L287.9,508.3 L289.1,508.0 L290.3,507.1 L291.5,505.0 L292.7,503.1 L293.9,502.2 L295.1,499.8 L296.3,498.9 L297.5,497.3 L298.7,495.4 L299.9,494.6 L301.1,491.9 L302.4,491.3 L303.6,489.7 L305.0,485.2 L306.4,481.0 L307.7,479.7 L309.0,477.9 L310.3,477.1 L311.6,476.1 L312.9,475.9 L314.2,475.2 L315.4,476.6 L316.6,476.1 L317.8,477.4 L319.0,478.1 L320.2,480.0 L321.4,481.7 L322.6,482.0 L323.8,483.9 L325.0,485.0 L326.2,487.9 L327.4,489.6 L328.6,490.6 L329.8,492.3 L331.0,493.3 L332.2,496.3 L333.4,497.4 L334.6,499.1 L335.8,501.7 L337.0,503.1 L338.2,504.7 L339.6,503.4 L341.1,501.2 L342.6,504.1 L344.0,508.0 L345.2,508.7 L346.4,508.0 L347.6,508.5 L348.8,508.9 L350.0,509.2 L351.2,508.9 L352.4,507.7 L353.6,508.0 L355.1,507.3 L356.5,507.3 L357.9,507.3 L359.4,507.0 L360.6,505.2 L361.8,503.1 L363.0,501.6 L364.2,500.3 L365.6,498.5 L367.0,496.5 L368.4,493.1 L369.8,491.6 L371.1,490.1 L372.4,488.8 L373.7,486.8 L375.0,483.5 L376.2,482.2 L377.5,479.1 L378.7,478.3 L379.9,478.7 L381.1,478.4 L382.3,478.1 L383.5,478.8 L384.7,478.8 L385.9,479.4 L387.1,480.0 L388.3,481.1 L389.6,481.8 L390.8,483.2 L392.0,483.9 L393.2,485.0 L394.4,486.2 L395.6,486.8 L396.8,488.7 L398.0,490.3 L399.2,491.6 L400.4,492.7 L401.6,494.5 L402.9,497.1 L404.1,499.4 L405.4,501.2 L406.7,502.4 L408.0,503.3 L409.3,505.1 L410.8,499.3 L411.9,502.5 L413.0,505.1 L414.1,508.9 L415.3,508.3 L416.5,508.8 L417.7,508.3 L418.9,508.9 L420.1,508.4 L421.3,508.2 L422.5,507.1 L423.7,507.4 L424.9,507.0 L426.1,505.6 L427.4,506.0 L428.6,505.1 L429.8,503.8 L431.0,501.7 L432.2,499.3 L433.4,498.3 L434.6,496.6 L435.8,494.8 L437.0,494.0 L438.2,491.6 L439.4,489.6 L440.6,489.2 L441.8,488.0 L443.0,485.8 L444.4,481.8 L445.9,477.1 L447.1,477.3 L448.3,476.2 L449.5,477.1 L450.7,476.2 L451.9,477.1 L453.1,478.8 L454.3,479.7 L455.5,480.0 L456.7,480.9 L457.9,483.3 L459.1,485.0 L460.3,485.8 L461.5,486.3 L462.8,488.0 L464.0,489.8 L465.2,490.6 L466.4,491.5 L467.6,494.1 L468.8,494.6 L470.0,496.4 L471.2,498.3 L472.4,498.8 L473.6,500.8 L474.8,502.2 L476.1,504.1 L477.3,504.3 L478.6,506.0 L480.2,499.3 L481.3,501.8 L482.4,505.1 L483.5,508.0 L484.7,507.4 L485.9,506.6 L487.1,506.5 L488.3,506.6 L489.7,505.9 L491.1,506.9 L492.4,506.4 L493.8,506.6 L495.2,505.8 L496.5,503.8 L497.8,503.1 L499.1,500.6 L500.4,499.6 L501.7,498.1 L503.0,496.7 L504.3,494.7 L505.6,493.4 L506.9,492.4 L508.1,490.4 L509.4,488.9 L510.7,487.2 L512.3,482.0 L513.9,475.7 L515.3,475.5 L516.6,477.2 L518.0,476.8 L519.3,478.0 L520.6,478.7 L521.9,480.3 L523.2,480.9 L524.5,481.8 L525.8,484.2 L527.1,484.9 L528.4,486.1 L529.7,487.2 L531.0,489.1 L532.3,489.9 L533.6,491.3 L534.9,492.4 L536.2,494.8 L537.4,495.3 L538.7,497.5 L540.0,499.5 L541.3,500.2 L542.6,502.4 L543.9,503.7 L545.3,505.5 L546.7,506.0 L548.1,506.9 L549.2,504.0 L550.2,500.6 L551.8,504.7 L553.3,509.3 L554.6,508.4 L555.8,508.2 L557.1,508.2 L558.4,508.5 L559.7,508.1 L561.0,507.3 L562.3,506.9 L563.6,506.4 L564.9,506.1 L566.2,504.0 L567.5,503.2 L568.8,502.7 L570.1,501.4 L571.4,498.9 L572.7,497.3 L574.0,496.5 L575.3,494.5 L576.6,492.3 L577.9,490.8 L579.2,489.2 L580.6,485.7 L581.9,483.1 L583.3,479.9 L584.6,480.0 L585.9,479.5 L587.2,480.1 L588.5,479.9 L589.8,480.4 L591.1,480.4 L592.4,482.1 L593.7,482.0 L595.0,482.9 L596.3,484.1 L597.6,485.3 L598.9,487.2 L600.2,489.0 L601.5,490.9 L602.8,492.3 L604.1,493.4 L605.4,494.8 L606.7,496.1 L608.0,497.3 L609.3,499.6 L610.6,501.4 L611.9,502.8 L613.2,504.0 L614.5,505.8 L615.7,507.2 L617.0,508.0 L618.2,509.3" fill="none" stroke="#000" stroke-width="3.1" stroke-linejoin="round" stroke-linecap="round"/>
<line x1="119.9" y1="319" x2="119.9" y2="580.7" stroke="#000" stroke-width="2"/>
<line x1="114.8" y1="579.7" x2="619" y2="579.7" stroke="#000" stroke-width="2.2"/>
<line x1="114.8" y1="449.8" x2="619" y2="449.8" stroke="#000" stroke-width="2.2"/>
<line x1="114.8" y1="381" x2="119.9" y2="381" stroke="#000" stroke-width="2"/>
<text x="105" y="387.7" font-size="18.7" text-anchor="end">400</text>
<line x1="114.8" y1="449.9" x2="119.9" y2="449.9" stroke="#000" stroke-width="2"/>
<text x="105" y="456.6" font-size="18.7" text-anchor="end">40</text>
<line x1="114.8" y1="510.9" x2="119.9" y2="510.9" stroke="#000" stroke-width="2"/>
<text x="105" y="517.6" font-size="18.7" text-anchor="end">400</text>
<line x1="114.8" y1="579.5" x2="119.9" y2="579.5" stroke="#000" stroke-width="2"/>
<text x="105" y="586.2" font-size="18.7" text-anchor="end">40</text>
<text x="119" y="608.7" font-size="18.7" text-anchor="middle">0</text>
<text x="202.4" y="608.7" font-size="18.7" text-anchor="middle">24</text>
<text x="272.2" y="608.7" font-size="18.7" text-anchor="middle">44</text>
<text x="341.2" y="608.7" font-size="18.7" text-anchor="middle">64</text>
<text x="412" y="608.7" font-size="18.7" text-anchor="middle">84</text>
<text x="481" y="608.7" font-size="18.7" text-anchor="middle">104</text>
<text x="550.6" y="608.7" font-size="18.7" text-anchor="middle">124</text>
<text x="618.3" y="608.7" font-size="18.7" text-anchor="middle">144</text>
<text x="557.6" y="337.2" font-size="18.6">Control</text>
<text x="498.9" y="468.8" font-size="18.6" font-style="italic">LgELF3-RNAi</text>
<text x="7.5" y="336.1" font-size="31">b</text>
<text transform="translate(22,450.8) rotate(-90)" font-size="24.5" text-anchor="middle">Luminescence</text>
<text transform="translate(48.6,450.8) rotate(-90)" font-size="24.5" text-anchor="middle">(counts s<tspan font-size="16" dy="-7.5">-1</tspan><tspan dy="7.5">)</tspan></text>
</g>
<g>
<rect x="121.5" y="637.2" width="40.1" height="238.3" fill="#505455"/>
<rect x="205.1" y="637.2" width="25.7" height="238.3" fill="#505455"/>
<rect x="261.3" y="637.2" width="25.7" height="238.3" fill="#505455"/>
<rect x="316.2" y="637.2" width="25.7" height="238.3" fill="#505455"/>
<rect x="371.4" y="637.2" width="25.4" height="238.3" fill="#505455"/>
<rect x="428.1" y="637.2" width="25.4" height="238.3" fill="#505455"/>
<rect x="483.8" y="637.2" width="25.6" height="238.3" fill="#505455"/>
<rect x="537.8" y="637.2" width="25.8" height="238.3" fill="#505455"/>
<rect x="594.4" y="637.2" width="26.0" height="238.3" fill="#505455"/>
<rect x="561.6" y="637.2" width="68.4" height="21.3" fill="#fff"/>
<rect x="502.1" y="758.7" width="127.9" height="22.1" fill="#fff"/>
<path d="M121.2,693.4 L123.7,698.2 L127.5,704.0 L131.4,708.5 L135.2,710.8 L139.1,709.8 L142.9,706.0 L145.8,698.2 L148.7,690.5 L152.6,681.9 L156.4,673.2 L160.3,666.5 L164.1,660.7 L166.0,659.3 L169.9,661.7 L174.7,664.2 L179.5,666.5 L183.4,670.3 L187.2,676.1 L191.1,682.8 L194.9,690.5 L199.7,698.2 L203.6,701.1 L207.4,705.0 L212.3,708.8 L217.1,712.7 L221.9,715.6 L225.7,716.5 L230.6,715.6 L232.5,708.8 L234.4,695.4 L237.3,686.7 L241.2,678.0 L242.9,677.1 L246.7,673.8 L251.6,671.9 L256.4,670.3 L260.2,669.4 L261.2,666.5 L264.1,670.3 L268.9,673.2 L273.7,676.1 L278.5,678.6 L283.3,680.9 L287.8,682.8 L291.6,677.6 L295.9,680.9 L300.7,683.8 L305.5,686.7 L310.3,689.6 L315.1,692.5 L317.0,689.2 L320.9,693.4 L325.7,697.3 L330.5,700.8 L333.4,701.1 L338.2,696.3 L342.1,691.5 L345.5,681.9 L348.8,678.0 L353.6,676.7 L359.4,677.1 L364.2,678.0 L368.9,680.0 L371.7,678.0 L375.6,683.8 L380.4,687.7 L385.2,691.1 L390.0,694.4 L393.9,696.3 L397.4,696.9 L400.6,689.6 L405.4,687.7 L411.2,686.3 L417.0,686.3 L422.8,687.7 L426.6,687.3 L427.6,685.3 L431.4,689.2 L436.3,693.4 L441.7,697.3 L445.9,694.4 L450.7,690.5 L454.6,686.7 L457.5,682.3 L462.3,681.5 L467.1,682.3 L472.9,684.8 L478.6,687.7 L482.5,688.6 L483.5,685.7 L487.3,690.5 L492.1,693.4 L495.2,695.1 L500.4,697.8 L505.6,699.2 L509.7,697.1 L512.8,692.0 L518.0,688.8 L523.2,687.4 L528.4,687.4 L533.6,688.8 L536.7,689.9 L538.7,686.8 L541.9,692.0 L547.0,695.1 L552.2,697.8 L557.4,699.2 L562.6,699.2 L565.7,692.0 L569.9,688.8 L575.0,686.8 L581.3,686.8 L586.5,688.2 L591.6,690.9 L593.7,687.8 L597.9,694.0 L603.0,697.1 L608.2,700.3 L613.4,702.3 L619.6,701.9 L619.6,709.3 L613.4,709.7 L608.2,707.7 L603.0,704.5 L597.9,701.4 L593.7,695.2 L591.6,698.3 L586.5,695.6 L581.3,694.2 L575.0,694.2 L569.9,696.2 L565.7,699.4 L562.6,706.6 L557.4,706.6 L552.2,705.2 L547.0,702.5 L541.9,699.4 L538.7,694.2 L536.7,697.3 L533.6,696.2 L528.4,694.8 L523.2,694.8 L518.0,696.2 L512.8,699.4 L509.7,704.5 L505.6,706.6 L500.4,705.2 L495.2,702.5 L492.1,700.8 L487.3,697.9 L483.5,693.1 L482.5,696.0 L478.6,695.1 L472.9,692.2 L467.1,689.7 L462.3,688.9 L457.5,689.7 L454.6,694.1 L450.7,697.9 L445.9,701.8 L441.7,704.7 L436.3,700.8 L431.4,696.6 L427.6,692.7 L426.6,694.7 L422.8,695.1 L417.0,693.7 L411.2,693.7 L405.4,695.1 L400.6,697.0 L397.4,704.3 L393.9,703.7 L390.0,701.8 L385.2,698.5 L380.4,695.1 L375.6,691.2 L371.7,685.4 L368.9,687.4 L364.2,685.4 L359.4,684.5 L353.6,684.1 L348.8,685.4 L345.5,689.3 L342.1,698.9 L338.2,703.7 L333.4,708.5 L330.5,708.2 L325.7,704.7 L320.9,700.8 L317.0,696.6 L315.1,699.9 L310.3,697.0 L305.5,694.1 L300.7,691.2 L295.9,688.3 L291.6,685.0 L287.8,690.2 L283.3,688.3 L278.5,686.0 L273.7,683.5 L268.9,680.6 L264.1,677.7 L261.2,673.9 L260.2,676.8 L256.4,677.7 L251.6,679.3 L246.7,681.2 L242.9,684.5 L241.2,685.4 L237.3,694.1 L234.4,702.8 L232.5,716.2 L230.6,723.0 L225.7,723.9 L221.9,723.0 L217.1,720.1 L212.3,716.2 L207.4,712.4 L203.6,708.5 L199.7,705.6 L194.9,697.9 L191.1,690.2 L187.2,683.5 L183.4,677.7 L179.5,673.9 L174.7,671.6 L169.9,669.1 L166.0,666.7 L164.1,668.1 L160.3,673.9 L156.4,680.6 L152.6,689.3 L148.7,697.9 L145.8,705.6 L142.9,713.4 L139.1,717.2 L135.2,718.2 L131.4,715.9 L127.5,711.4 L123.7,705.6 L121.2,700.8 Z" fill="url(#eb)" />
<path d="M121.2,696.6 L122.5,699.7 L123.7,701.4 L125.0,703.7 L126.2,704.9 L127.5,707.2 L128.8,709.3 L130.1,709.5 L131.4,711.7 L132.7,712.5 L133.9,713.1 L135.2,714.0 L136.5,713.3 L137.8,712.7 L139.1,713.0 L140.4,712.2 L141.6,709.7 L142.9,709.2 L144.4,705.4 L145.8,701.4 L147.2,698.2 L148.7,693.7 L150.0,690.3 L151.3,687.5 L152.6,685.1 L153.9,682.4 L155.1,679.3 L156.4,676.4 L157.7,674.4 L159.0,672.4 L160.3,669.7 L161.6,667.3 L162.8,665.5 L164.1,663.9 L166.0,662.5 L167.3,663.0 L168.6,663.4 L169.9,664.9 L171.1,666.1 L172.3,666.6 L173.5,667.1 L174.7,667.4 L175.9,667.2 L177.1,669.1 L178.3,669.5 L179.5,669.7 L180.8,670.9 L182.1,672.6 L183.4,673.5 L184.7,675.4 L185.9,677.0 L187.2,679.3 L188.5,680.9 L189.8,683.4 L191.1,686.0 L192.4,687.9 L193.6,690.9 L194.9,693.7 L196.1,696.0 L197.3,697.8 L198.5,700.0 L199.7,701.4 L201.0,702.7 L202.3,703.0 L203.6,704.3 L204.9,705.7 L206.1,706.8 L207.4,708.2 L208.6,709.6 L209.9,710.1 L211.1,710.7 L212.3,712.0 L213.5,713.2 L214.7,714.6 L215.9,714.5 L217.1,715.9 L218.3,717.2 L219.5,716.6 L220.7,717.7 L221.9,718.8 L223.2,718.7 L224.4,719.8 L225.7,719.7 L226.9,720.1 L228.1,719.6 L229.4,718.8 L230.6,718.8 L232.5,712.0 L234.4,698.6 L235.9,694.8 L237.3,689.9 L238.6,686.7 L239.9,683.7 L241.2,681.2 L242.9,680.3 L244.2,679.8 L245.4,678.3 L246.7,677.0 L247.9,676.8 L249.1,676.3 L250.4,676.3 L251.6,675.1 L252.8,674.7 L254.0,674.8 L255.2,674.2 L256.4,673.5 L257.7,673.7 L258.9,672.8 L260.2,672.6 L261.2,669.7 L262.6,671.9 L264.1,673.5 L265.3,674.3 L266.5,674.7 L267.7,675.2 L268.9,676.4 L270.1,677.3 L271.3,677.2 L272.5,679.2 L273.7,679.3 L274.9,679.4 L276.1,679.8 L277.3,680.6 L278.5,681.8 L279.7,683.0 L280.9,682.7 L282.1,683.0 L283.3,684.1 L284.8,684.0 L286.3,684.7 L287.8,686.0 L289.1,684.6 L290.3,682.7 L291.6,680.8 L293.0,682.2 L294.5,683.4 L295.9,684.1 L297.1,684.2 L298.3,685.7 L299.5,686.1 L300.7,687.0 L301.9,688.2 L303.1,688.9 L304.3,689.8 L305.5,689.9 L306.7,690.0 L307.9,691.9 L309.1,692.7 L310.3,692.8 L311.5,694.2 L312.7,693.7 L313.9,694.5 L315.1,695.7 L317.0,692.4 L318.3,693.2 L319.6,694.5 L320.9,696.6 L322.1,698.1 L323.3,699.0 L324.5,699.7 L325.7,700.5 L326.9,701.9 L328.1,702.4 L329.3,702.8 L330.5,704.0 L331.9,703.5 L333.4,704.3 L334.6,702.5 L335.8,702.3 L337.0,700.3 L338.2,699.5 L339.5,697.6 L340.8,696.2 L342.1,694.7 L343.2,690.8 L344.4,687.9 L345.5,685.1 L346.6,683.5 L347.7,682.8 L348.8,681.2 L350.0,680.7 L351.2,680.3 L352.4,680.9 L353.6,679.9 L355.1,680.0 L356.5,680.6 L357.9,680.4 L359.4,680.3 L360.6,679.8 L361.8,680.6 L363.0,680.9 L364.2,681.2 L365.4,682.1 L366.5,682.0 L367.7,683.0 L368.9,683.2 L370.3,682.3 L371.7,681.2 L373.0,682.7 L374.3,685.6 L375.6,687.0 L376.8,687.4 L378.0,689.4 L379.2,689.4 L380.4,690.9 L381.6,691.0 L382.8,692.2 L384.0,693.8 L385.2,694.3 L386.4,695.8 L387.6,695.2 L388.8,696.8 L390.0,697.6 L391.3,698.2 L392.6,699.3 L393.9,699.5 L395.1,699.2 L396.2,699.9 L397.4,700.1 L399.0,696.2 L400.6,692.8 L401.8,692.8 L403.0,691.5 L404.2,692.0 L405.4,690.9 L406.8,690.2 L408.3,689.8 L409.8,690.1 L411.2,689.5 L412.6,689.5 L414.1,688.9 L415.6,689.7 L417.0,689.5 L418.4,689.2 L419.9,690.6 L421.4,690.8 L422.8,690.9 L424.1,691.2 L425.3,690.8 L426.6,690.5 L427.6,688.5 L428.9,689.6 L430.1,691.0 L431.4,692.4 L432.6,693.3 L433.9,695.1 L435.1,694.9 L436.3,696.6 L437.6,698.2 L439.0,697.8 L440.4,699.1 L441.7,700.5 L443.1,699.2 L444.5,699.2 L445.9,697.6 L447.1,696.6 L448.3,695.5 L449.5,695.3 L450.7,693.7 L452.0,692.0 L453.3,691.1 L454.6,689.9 L456.1,687.7 L457.5,685.5 L458.7,685.7 L459.9,685.5 L461.1,685.1 L462.3,684.7 L463.5,684.7 L464.7,684.8 L465.9,684.8 L467.1,685.5 L468.6,686.6 L470.0,687.0 L471.4,687.7 L472.9,688.0 L474.3,688.2 L475.8,689.4 L477.2,690.6 L478.6,690.9 L479.9,691.3 L481.2,690.9 L482.5,691.8 L483.5,688.9 L484.8,690.4 L486.0,692.7 L487.3,693.7 L488.5,694.0 L489.7,694.7 L490.9,695.6 L492.1,696.6 L493.6,697.8 L495.2,698.3 L496.5,699.5 L497.8,699.1 L499.1,699.8 L500.4,701.0 L501.7,701.0 L503.0,701.4 L504.3,702.1 L505.6,702.4 L507.0,701.2 L508.3,700.7 L509.7,700.3 L511.2,697.3 L512.8,695.2 L514.1,695.1 L515.4,693.9 L516.7,692.2 L518.0,692.0 L519.3,692.3 L520.6,690.7 L521.9,690.8 L523.2,690.6 L524.5,691.3 L525.8,691.0 L527.1,690.9 L528.4,690.6 L529.7,690.9 L531.0,690.8 L532.3,691.9 L533.6,692.0 L535.2,692.0 L536.7,693.1 L537.7,691.1 L538.7,690.0 L540.3,692.4 L541.9,695.2 L543.2,695.3 L544.5,696.6 L545.7,698.0 L547.0,698.3 L548.3,699.3 L549.6,699.7 L550.9,700.5 L552.2,701.0 L553.5,701.3 L554.8,701.2 L556.1,702.2 L557.4,702.4 L558.7,702.3 L560.0,702.8 L561.3,703.0 L562.6,702.4 L564.2,698.7 L565.7,695.2 L567.1,694.2 L568.5,693.4 L569.9,692.0 L571.2,691.4 L572.5,690.6 L573.7,690.8 L575.0,690.0 L576.3,690.6 L577.5,690.4 L578.8,690.3 L580.0,690.5 L581.3,690.0 L582.6,690.6 L583.9,690.9 L585.2,691.0 L586.5,691.4 L587.8,691.8 L589.0,692.9 L590.3,692.8 L591.6,694.1 L592.7,692.4 L593.7,691.0 L595.1,693.5 L596.5,695.5 L597.9,697.2 L599.2,698.2 L600.5,698.4 L601.7,699.4 L603.0,700.3 L604.3,701.0 L605.6,702.1 L606.9,702.6 L608.2,703.5 L609.5,704.3 L610.8,705.1 L612.1,704.5 L613.4,705.5 L614.6,705.7 L615.9,705.8 L617.1,705.1 L618.4,705.2 L619.6,705.1" fill="none" stroke="#000" stroke-width="3.1" stroke-linejoin="round" stroke-linecap="round"/>
<path d="M121.2,823.3 L124.6,829.0 L129.4,833.9 L134.3,836.4 L138.1,835.2 L142.9,831.0 L147.7,825.2 L152.6,817.5 L157.4,807.9 L161.2,801.1 L163.5,799.2 L166.6,792.4 L169.9,796.3 L173.7,803.0 L178.6,808.8 L182.4,815.6 L186.3,824.2 L190.1,831.9 L194.0,836.7 L197.8,840.6 L201.7,842.1 L203.6,840.6 L204.6,829.0 L207.4,832.9 L212.3,833.9 L217.1,832.5 L221.9,827.1 L226.7,820.4 L231.5,811.7 L235.4,803.0 L239.2,798.2 L242.1,796.3 L245.0,797.8 L248.7,800.2 L253.5,804.4 L257.3,810.7 L259.3,807.9 L261.2,805.0 L264.1,812.7 L268.9,818.4 L273.7,823.6 L278.5,824.8 L283.3,822.3 L287.2,816.5 L290.1,806.9 L293.9,800.2 L298.7,799.2 L303.6,801.7 L308.4,805.0 L313.2,809.8 L316.1,803.6 L319.0,810.7 L323.8,816.5 L328.6,822.3 L333.4,824.8 L338.2,822.3 L343.0,817.5 L345.9,807.9 L349.8,800.2 L353.6,798.2 L358.5,800.5 L363.3,805.0 L368.1,810.7 L371.2,802.1 L373.7,809.8 L378.5,813.6 L384.3,819.4 L390.0,824.2 L394.9,821.3 L398.7,817.5 L400.6,807.9 L405.4,803.0 L410.3,800.5 L415.1,802.5 L419.9,805.9 L424.7,810.7 L427.0,805.0 L430.5,813.6 L435.3,817.5 L440.1,822.3 L444.0,824.2 L447.8,821.3 L452.6,815.6 L455.5,806.9 L459.4,803.0 L464.2,801.7 L469.0,804.0 L473.8,807.9 L478.6,813.6 L481.5,816.5 L482.5,807.9 L485.4,814.0 L490.2,817.5 L494.1,821.5 L499.3,822.9 L504.5,820.5 L509.7,813.2 L514.9,807.0 L521.1,801.8 L526.3,804.9 L531.5,810.1 L536.7,815.3 L538.7,807.0 L540.8,817.3 L546.0,822.5 L551.2,827.7 L555.3,829.8 L560.5,826.7 L564.7,820.5 L567.8,813.2 L573.0,808.0 L577.1,803.9 L582.3,807.0 L587.5,812.2 L591.6,818.0 L593.7,809.0 L596.8,818.4 L602.0,822.5 L607.2,826.7 L612.4,826.7 L616.5,824.2 L620.3,821.5 L620.3,828.5 L616.5,831.2 L612.4,833.7 L607.2,833.7 L602.0,829.5 L596.8,825.4 L593.7,816.0 L591.6,825.0 L587.5,819.2 L582.3,814.0 L577.1,810.9 L573.0,815.0 L567.8,820.2 L564.7,827.5 L560.5,833.7 L555.3,836.8 L551.2,834.7 L546.0,829.5 L540.8,824.3 L538.7,814.0 L536.7,822.3 L531.5,817.1 L526.3,811.9 L521.1,808.8 L514.9,814.0 L509.7,820.2 L504.5,827.5 L499.3,829.9 L494.1,828.5 L490.2,824.5 L485.4,821.0 L482.5,814.9 L481.5,823.5 L478.6,820.6 L473.8,814.9 L469.0,811.0 L464.2,808.7 L459.4,810.0 L455.5,813.9 L452.6,822.6 L447.8,828.3 L444.0,831.2 L440.1,829.3 L435.3,824.5 L430.5,820.6 L427.0,812.0 L424.7,817.7 L419.9,812.9 L415.1,809.5 L410.3,807.5 L405.4,810.0 L400.6,814.9 L398.7,824.5 L394.9,828.3 L390.0,831.2 L384.3,826.4 L378.5,820.6 L373.7,816.8 L371.2,809.1 L368.1,817.7 L363.3,812.0 L358.5,807.5 L353.6,805.2 L349.8,807.2 L345.9,814.9 L343.0,824.5 L338.2,829.3 L333.4,831.8 L328.6,829.3 L323.8,823.5 L319.0,817.7 L316.1,810.6 L313.2,816.8 L308.4,812.0 L303.6,808.7 L298.7,806.2 L293.9,807.2 L290.1,813.9 L287.2,823.5 L283.3,829.3 L278.5,831.8 L273.7,830.6 L268.9,825.4 L264.1,819.7 L261.2,812.0 L259.3,814.9 L257.3,817.7 L253.5,811.4 L248.7,807.2 L245.0,804.8 L242.1,803.3 L239.2,805.2 L235.4,810.0 L231.5,818.7 L226.7,827.4 L221.9,834.1 L217.1,839.5 L212.3,840.9 L207.4,839.9 L204.6,836.0 L203.6,847.6 L201.7,849.1 L197.8,847.6 L194.0,843.7 L190.1,838.9 L186.3,831.2 L182.4,822.6 L178.6,815.8 L173.7,810.0 L169.9,803.3 L166.6,799.4 L163.5,806.2 L161.2,808.1 L157.4,814.9 L152.6,824.5 L147.7,832.2 L142.9,838.0 L138.1,842.2 L134.3,843.4 L129.4,840.9 L124.6,836.0 L121.2,830.3 Z" fill="url(#eb)" />
<path d="M121.2,826.3 L122.3,828.9 L123.5,829.4 L124.6,832.0 L125.8,833.3 L127.0,833.9 L128.2,836.1 L129.4,836.9 L130.6,838.2 L131.9,838.2 L133.1,838.2 L134.3,839.4 L135.6,839.1 L136.8,838.7 L138.1,838.2 L139.3,837.5 L140.5,836.1 L141.7,835.3 L142.9,834.0 L144.1,833.0 L145.3,831.1 L146.5,829.5 L147.7,828.2 L148.9,826.9 L150.1,823.9 L151.4,822.7 L152.6,820.5 L153.8,817.9 L155.0,816.1 L156.2,812.7 L157.4,810.9 L158.7,809.4 L159.9,806.1 L161.2,804.1 L162.3,802.5 L163.5,802.2 L165.1,798.5 L166.6,795.4 L167.7,796.5 L168.8,797.3 L169.9,799.3 L171.2,801.4 L172.4,803.6 L173.7,806.0 L174.9,807.7 L176.1,808.7 L177.4,810.0 L178.6,811.8 L179.9,813.7 L181.1,816.7 L182.4,818.6 L183.7,822.1 L185.0,824.4 L186.3,827.2 L187.6,829.3 L188.8,832.8 L190.1,834.9 L191.4,836.3 L192.7,837.7 L194.0,839.7 L195.3,840.4 L196.5,842.7 L197.8,843.6 L199.1,844.6 L200.4,844.8 L201.7,845.1 L203.6,843.6 L204.6,832.0 L206.0,833.9 L207.4,835.9 L208.6,836.2 L209.9,836.0 L211.1,837.3 L212.3,836.9 L213.5,836.3 L214.7,836.4 L215.9,836.3 L217.1,835.5 L218.3,834.6 L219.5,832.8 L220.7,831.1 L221.9,830.1 L223.1,828.5 L224.3,826.2 L225.5,825.6 L226.7,823.4 L227.9,821.0 L229.1,819.6 L230.3,816.5 L231.5,814.7 L232.8,811.6 L234.1,808.5 L235.4,806.0 L236.7,804.3 L237.9,802.3 L239.2,801.2 L240.6,799.5 L242.1,799.3 L243.6,800.4 L245.0,800.8 L246.2,801.3 L247.5,802.0 L248.7,803.2 L249.9,804.0 L251.1,805.3 L252.3,806.2 L253.5,807.4 L254.8,809.7 L256.0,811.8 L257.3,813.7 L258.3,812.1 L259.3,810.9 L261.2,808.0 L262.6,812.5 L264.1,815.7 L265.3,817.7 L266.5,817.9 L267.7,820.5 L268.9,821.4 L270.1,823.3 L271.3,824.4 L272.5,824.8 L273.7,826.6 L274.9,827.4 L276.1,827.4 L277.3,826.8 L278.5,827.8 L279.7,826.4 L280.9,827.2 L282.1,826.2 L283.3,825.3 L284.6,823.0 L285.9,820.8 L287.2,819.5 L288.6,814.2 L290.1,809.9 L291.4,807.3 L292.6,805.8 L293.9,803.2 L295.1,802.7 L296.3,802.2 L297.5,803.1 L298.7,802.2 L299.9,803.3 L301.1,803.0 L302.4,804.7 L303.6,804.7 L304.8,805.7 L306.0,806.8 L307.2,807.4 L308.4,808.0 L309.6,809.8 L310.8,810.8 L312.0,812.1 L313.2,812.8 L314.6,809.2 L316.1,806.6 L317.6,810.4 L319.0,813.7 L320.2,815.2 L321.4,817.0 L322.6,818.0 L323.8,819.5 L325.0,821.5 L326.2,822.5 L327.4,823.5 L328.6,825.3 L329.8,825.5 L331.0,826.0 L332.2,827.2 L333.4,827.8 L334.6,826.5 L335.8,826.5 L337.0,825.4 L338.2,825.3 L339.4,824.1 L340.6,822.9 L341.8,821.8 L343.0,820.5 L344.4,816.2 L345.9,810.9 L347.2,807.6 L348.5,806.3 L349.8,803.2 L351.1,802.5 L352.3,802.0 L353.6,801.2 L354.8,802.0 L356.1,802.9 L357.3,802.7 L358.5,803.5 L359.7,804.5 L360.9,806.4 L362.1,806.2 L363.3,808.0 L364.5,809.6 L365.7,811.1 L366.9,811.6 L368.1,813.7 L369.6,809.6 L371.2,805.1 L372.4,809.2 L373.7,812.8 L374.9,814.4 L376.1,814.4 L377.3,816.4 L378.5,816.6 L379.9,818.1 L381.4,819.5 L382.9,821.5 L384.3,822.4 L385.7,822.9 L387.1,825.1 L388.6,826.2 L390.0,827.2 L391.2,826.2 L392.4,826.3 L393.7,824.8 L394.9,824.3 L396.2,823.0 L397.4,821.8 L398.7,820.5 L400.6,810.9 L401.8,810.1 L403.0,808.0 L404.2,807.1 L405.4,806.0 L406.6,805.3 L407.9,804.8 L409.1,804.6 L410.3,803.5 L411.5,803.7 L412.7,805.0 L413.9,804.9 L415.1,805.5 L416.3,806.4 L417.5,806.9 L418.7,808.1 L419.9,808.9 L421.1,810.8 L422.3,811.5 L423.5,812.9 L424.7,813.7 L425.9,810.6 L427.0,808.0 L428.2,810.6 L429.3,813.4 L430.5,816.6 L431.7,817.7 L432.9,818.8 L434.1,820.0 L435.3,820.5 L436.5,821.0 L437.7,823.2 L438.9,824.7 L440.1,825.3 L441.4,826.0 L442.7,825.9 L444.0,827.2 L445.3,825.9 L446.5,824.5 L447.8,824.3 L449.0,822.4 L450.2,822.1 L451.4,820.2 L452.6,818.6 L454.1,814.5 L455.5,809.9 L456.8,809.0 L458.1,807.9 L459.4,806.0 L460.6,805.8 L461.8,805.5 L463.0,805.2 L464.2,804.7 L465.4,805.6 L466.6,806.0 L467.8,806.7 L469.0,807.0 L470.2,807.5 L471.4,809.2 L472.6,809.9 L473.8,810.9 L475.0,812.7 L476.2,813.2 L477.4,814.7 L478.6,816.6 L480.1,817.4 L481.5,819.5 L482.5,810.9 L483.9,814.4 L485.4,817.0 L486.6,818.5 L487.8,819.0 L489.0,819.4 L490.2,820.5 L491.5,822.3 L492.8,823.6 L494.1,824.5 L495.4,824.9 L496.7,824.8 L498.0,825.3 L499.3,825.9 L500.6,825.2 L501.9,824.4 L503.2,824.0 L504.5,823.5 L505.8,821.9 L507.1,820.5 L508.4,817.4 L509.7,816.2 L511.0,814.8 L512.3,812.4 L513.6,811.0 L514.9,810.0 L516.1,809.4 L517.4,808.0 L518.6,807.5 L519.9,805.8 L521.1,804.8 L522.4,804.8 L523.7,806.2 L525.0,807.3 L526.3,807.9 L527.6,809.9 L528.9,811.2 L530.2,811.8 L531.5,813.1 L532.8,814.3 L534.1,815.1 L535.4,817.2 L536.7,818.3 L537.7,813.7 L538.7,810.0 L539.8,814.6 L540.8,820.3 L542.1,820.9 L543.4,822.2 L544.7,824.5 L546.0,825.5 L547.3,826.2 L548.6,828.8 L549.9,828.8 L551.2,830.7 L552.6,832.0 L553.9,831.5 L555.3,832.8 L556.6,831.3 L557.9,831.6 L559.2,830.1 L560.5,829.7 L561.9,828.0 L563.3,825.1 L564.7,823.5 L566.2,819.2 L567.8,816.2 L569.1,815.3 L570.4,813.9 L571.7,812.8 L573.0,811.0 L574.4,810.0 L575.7,807.6 L577.1,806.9 L578.4,807.9 L579.7,808.8 L581.0,809.2 L582.3,810.0 L583.6,811.9 L584.9,812.2 L586.2,814.6 L587.5,815.2 L588.9,817.5 L590.2,818.3 L591.6,821.0 L592.7,815.8 L593.7,812.0 L595.2,816.9 L596.8,821.4 L598.1,822.9 L599.4,822.8 L600.7,824.2 L602.0,825.5 L603.3,826.9 L604.6,827.1 L605.9,829.2 L607.2,829.7 L608.5,829.7 L609.8,829.0 L611.1,829.5 L612.4,829.7 L613.8,829.0 L615.1,827.9 L616.5,827.2 L617.8,826.6 L619.0,824.9 L620.3,824.5" fill="none" stroke="#000" stroke-width="3.1" stroke-linejoin="round" stroke-linecap="round"/>
<line x1="120.5" y1="636.9" x2="120.5" y2="876.5" stroke="#000" stroke-width="2"/>
<line x1="114.8" y1="875.5" x2="621" y2="875.5" stroke="#000" stroke-width="2.2"/>
<line x1="114.8" y1="757.6" x2="621" y2="757.6" stroke="#000" stroke-width="2.2"/>
<line x1="114.8" y1="652.7" x2="120.5" y2="652.7" stroke="#000" stroke-width="2"/>
<text x="105" y="659.4" font-size="18.7" text-anchor="end">4000</text>
<line x1="114.8" y1="757.6" x2="120.5" y2="757.6" stroke="#000" stroke-width="2"/>
<text x="105" y="764.3" font-size="18.7" text-anchor="end">40</text>
<line x1="114.8" y1="784.9" x2="120.5" y2="784.9" stroke="#000" stroke-width="2"/>
<text x="105" y="791.6" font-size="18.7" text-anchor="end">4000</text>
<line x1="114.8" y1="875.8" x2="120.5" y2="875.8" stroke="#000" stroke-width="2"/>
<text x="105" y="882.5" font-size="18.7" text-anchor="end">400</text>
<text x="120" y="907" font-size="18.7" text-anchor="middle">0</text>
<text x="204.7" y="907" font-size="18.7" text-anchor="middle">24</text>
<text x="261.1" y="907" font-size="18.7" text-anchor="middle">40</text>
<text x="316.2" y="907" font-size="18.7" text-anchor="middle">56</text>
<text x="371.3" y="907" font-size="18.7" text-anchor="middle">72</text>
<text x="428" y="907" font-size="18.7" text-anchor="middle">88</text>
<text x="483.8" y="907" font-size="18.7" text-anchor="middle">104</text>
<text x="538" y="907" font-size="18.7" text-anchor="middle">120</text>
<text x="594.7" y="907" font-size="18.7" text-anchor="middle">136</text>
<text x="562" y="655.2" font-size="18.6">Control</text>
<text x="502.3" y="776.1" font-size="18.6" font-style="italic">LgELF3-RNAi</text>
<text x="7.5" y="653.7" font-size="31">c</text>
<text transform="translate(22,758.3) rotate(-90)" font-size="24.5" text-anchor="middle">Luminescence</text>
<text transform="translate(48.6,758.3) rotate(-90)" font-size="24.5" text-anchor="middle">(counts s<tspan font-size="16" dy="-7.5">-1</tspan><tspan dy="7.5">)</tspan></text>
</g>
<g>
<rect x="121.5" y="944" width="41.1" height="239.0" fill="#505455"/>
<rect x="205.4" y="944" width="19.2" height="239.0" fill="#505455"/>
<rect x="248.2" y="944" width="18.4" height="239.0" fill="#505455"/>
<rect x="289.3" y="944" width="18.7" height="239.0" fill="#505455"/>
<rect x="332.2" y="944" width="18.7" height="239.0" fill="#505455"/>
<rect x="372.5" y="944" width="18.7" height="239.0" fill="#505455"/>
<rect x="415.4" y="944" width="18.6" height="239.0" fill="#505455"/>
<rect x="456.5" y="944" width="18.2" height="239.0" fill="#505455"/>
<rect x="498.3" y="944" width="18.8" height="239.0" fill="#505455"/>
<rect x="539.5" y="944" width="18.8" height="239.0" fill="#505455"/>
<rect x="582.1" y="944" width="18.9" height="239.0" fill="#505455"/>
<rect x="561" y="944" width="69.0" height="21.8" fill="#fff"/>
<rect x="501.9" y="1066" width="128.1" height="21.9" fill="#fff"/>
<path d="M121.7,999.8 L125.6,1006.5 L129.4,1013.3 L134.3,1020.0 L139.1,1023.9 L143.9,1023.9 L147.7,1015.2 L151.6,1007.5 L155.4,997.9 L159.3,988.2 L163.2,977.6 L167.0,970.9 L171.8,969.9 L176.6,969.9 L181.4,970.9 L186.3,974.7 L190.1,980.5 L194.0,987.3 L197.8,994.0 L201.7,1002.7 L205.5,1006.5 L210.3,1011.3 L215.2,1016.2 L220.0,1021.0 L223.8,1025.8 L226.7,1017.1 L229.6,1009.4 L233.5,1002.7 L237.3,998.8 L241.2,995.9 L243.9,989.2 L248.7,983.4 L253.5,981.5 L258.3,980.5 L263.1,975.7 L267.9,969.9 L270.4,966.1 L273.7,970.9 L278.5,974.7 L283.3,977.6 L288.2,980.5 L293.0,986.3 L297.8,992.1 L302.6,997.9 L307.4,1003.6 L312.2,1004.6 L317.0,1005.6 L321.9,1005.6 L326.7,1004.6 L331.5,1000.7 L336.3,1001.7 L342.1,1002.7 L346.9,1001.7 L351.7,991.1 L355.6,985.3 L360.4,982.4 L365.2,981.5 L368.9,980.5 L372.7,978.6 L376.6,981.5 L381.4,982.4 L386.2,983.4 L391.0,986.3 L395.4,981.5 L398.7,985.3 L403.5,991.1 L408.3,996.9 L414.1,999.8 L418.9,1002.7 L423.7,1005.6 L428.6,1007.5 L432.4,1007.5 L435.3,1000.7 L440.1,994.9 L444.9,993.0 L449.7,992.1 L455.5,990.2 L460.3,990.2 L465.2,989.2 L470.0,989.2 L474.8,989.2 L478.6,982.4 L482.5,986.3 L487.3,990.2 L492.1,994.0 L495.2,994.9 L498.3,993.9 L502.4,997.0 L508.7,999.0 L514.9,1001.1 L519.0,999.0 L525.3,998.0 L531.5,997.6 L537.7,998.0 L540.8,996.0 L543.9,999.0 L550.2,999.0 L556.4,999.0 L559.5,997.0 L562.6,992.8 L566.7,994.9 L573.0,995.9 L579.2,997.0 L581.3,995.0 L585.4,998.0 L591.6,999.0 L596.8,1000.1 L602.0,997.0 L608.2,997.6 L614.5,998.0 L620.7,1000.1 L620.7,1013.6 L614.5,1013.6 L608.2,1012.5 L602.0,1012.5 L596.8,1018.7 L591.6,1017.7 L585.4,1015.6 L581.3,1012.0 L579.2,1013.6 L573.0,1012.5 L566.7,1010.5 L562.6,1008.4 L559.5,1013.6 L556.4,1017.7 L550.2,1017.7 L543.9,1016.7 L540.8,1012.0 L537.7,1014.6 L531.5,1013.6 L525.3,1013.6 L519.0,1016.7 L514.9,1020.8 L508.7,1017.7 L502.4,1015.6 L498.3,1013.6 L495.2,1013.6 L492.1,1011.3 L487.3,1007.5 L482.5,1001.7 L478.6,996.9 L474.8,1005.6 L470.0,1008.4 L465.2,1007.5 L460.3,1008.4 L455.5,1007.5 L449.7,1009.4 L444.9,1010.4 L440.1,1012.3 L435.3,1018.1 L432.4,1024.8 L428.6,1027.7 L423.7,1024.8 L418.9,1021.9 L414.1,1019.0 L408.3,1016.2 L403.5,1010.4 L398.7,1003.6 L395.4,997.9 L391.0,1006.5 L386.2,1005.6 L381.4,1004.6 L376.6,1002.7 L372.7,999.8 L368.9,999.8 L365.2,998.8 L360.4,999.8 L355.6,1002.7 L351.7,1007.5 L346.9,1019.0 L342.1,1020.0 L336.3,1017.1 L331.5,1016.2 L326.7,1019.0 L321.9,1020.0 L317.0,1019.0 L312.2,1018.1 L307.4,1022.9 L302.6,1017.1 L297.8,1011.3 L293.0,1005.6 L288.2,999.8 L283.3,995.9 L278.5,992.1 L273.7,988.2 L270.4,980.5 L267.9,985.3 L263.1,991.1 L258.3,995.9 L253.5,997.9 L248.7,999.8 L243.9,1005.6 L241.2,1009.4 L237.3,1012.3 L233.5,1016.2 L229.6,1022.9 L226.7,1028.7 L223.8,1037.3 L220.0,1033.5 L215.2,1028.7 L210.3,1022.9 L205.5,1018.1 L201.7,1015.2 L197.8,1007.5 L194.0,1000.7 L190.1,994.0 L186.3,989.2 L181.4,985.3 L176.6,985.3 L171.8,985.3 L167.0,986.3 L163.2,991.1 L159.3,1000.7 L155.4,1010.4 L151.6,1020.0 L147.7,1028.7 L143.9,1036.4 L139.1,1037.3 L134.3,1033.5 L129.4,1026.7 L125.6,1020.0 L121.7,1013.3 Z" fill="url(#eb)" />
<path d="M121.7,1005.6 L123.0,1008.3 L124.3,1009.9 L125.6,1012.3 L126.9,1014.8 L128.1,1017.0 L129.4,1019.0 L130.6,1020.6 L131.9,1022.2 L133.1,1024.5 L134.3,1025.8 L135.5,1027.4 L136.7,1028.1 L137.9,1028.8 L139.1,1029.6 L140.3,1029.3 L141.5,1028.9 L142.7,1030.3 L143.9,1029.6 L145.2,1027.3 L146.4,1025.0 L147.7,1021.9 L149.0,1018.8 L150.3,1016.3 L151.6,1013.3 L152.9,1010.8 L154.1,1007.3 L155.4,1003.6 L156.7,1000.6 L158.0,996.9 L159.3,994.0 L160.6,990.7 L161.9,988.2 L163.2,984.4 L164.5,982.3 L165.7,980.8 L167.0,978.6 L168.2,978.3 L169.4,978.2 L170.6,977.6 L171.8,976.7 L173.0,976.4 L174.2,976.0 L175.4,976.3 L176.6,976.7 L177.8,976.8 L179.0,977.3 L180.2,977.8 L181.4,977.6 L182.6,979.2 L183.9,978.9 L185.1,981.0 L186.3,981.5 L187.6,983.6 L188.8,985.3 L190.1,986.3 L191.4,988.6 L192.7,990.4 L194.0,993.0 L195.3,995.8 L196.5,998.0 L197.8,999.8 L199.1,1002.9 L200.4,1006.2 L201.7,1008.4 L203.0,1009.5 L204.2,1010.4 L205.5,1012.3 L206.7,1013.6 L207.9,1015.1 L209.1,1015.5 L210.3,1017.1 L211.5,1018.7 L212.8,1020.1 L214.0,1020.3 L215.2,1021.9 L216.4,1023.3 L217.6,1024.6 L218.8,1025.4 L220.0,1026.7 L221.3,1027.7 L222.5,1029.2 L223.8,1031.0 L225.2,1027.3 L226.7,1022.9 L228.1,1020.0 L229.6,1016.2 L230.9,1013.9 L232.2,1011.0 L233.5,1009.4 L234.8,1008.6 L236.0,1007.3 L237.3,1005.6 L238.6,1004.2 L239.9,1003.8 L241.2,1002.7 L242.6,1000.4 L243.9,996.9 L245.1,996.2 L246.3,994.3 L247.5,993.0 L248.7,991.7 L249.9,991.4 L251.1,990.3 L252.3,989.8 L253.5,989.8 L254.7,988.8 L255.9,989.1 L257.1,988.1 L258.3,987.8 L259.5,986.8 L260.7,985.5 L261.9,984.5 L263.1,983.4 L264.3,981.4 L265.5,979.8 L266.7,979.8 L267.9,977.6 L269.1,975.0 L270.4,972.8 L271.5,974.1 L272.6,976.9 L273.7,978.6 L274.9,980.0 L276.1,980.0 L277.3,981.6 L278.5,982.4 L279.7,983.0 L280.9,984.2 L282.1,984.3 L283.3,985.9 L284.5,986.3 L285.8,988.8 L287.0,989.7 L288.2,990.2 L289.4,991.6 L290.6,993.2 L291.8,994.1 L293.0,995.9 L294.2,997.5 L295.4,998.2 L296.6,1000.2 L297.8,1000.7 L299.0,1002.3 L300.2,1003.6 L301.4,1005.1 L302.6,1005.6 L303.8,1006.9 L305.0,1008.3 L306.2,1010.2 L307.4,1012.3 L308.6,1011.3 L309.8,1010.7 L311.0,1010.2 L312.2,1010.4 L313.4,1010.7 L314.6,1011.4 L315.8,1011.0 L317.0,1011.3 L318.2,1012.0 L319.4,1011.9 L320.7,1010.6 L321.9,1011.3 L323.1,1011.2 L324.3,1010.7 L325.5,1010.1 L326.7,1010.4 L327.9,1010.4 L329.1,1008.6 L330.3,1008.3 L331.5,1007.5 L332.7,1007.9 L333.9,1008.6 L335.1,1008.4 L336.3,1008.4 L337.8,1008.6 L339.2,1009.0 L340.7,1008.9 L342.1,1009.8 L343.3,1010.1 L344.5,1009.8 L345.7,1008.3 L346.9,1008.4 L348.1,1005.6 L349.3,1003.7 L350.5,1001.7 L351.7,999.8 L353.0,998.5 L354.3,996.5 L355.6,994.0 L356.8,993.8 L358.0,991.9 L359.2,992.3 L360.4,991.1 L361.6,991.1 L362.8,990.7 L364.0,990.9 L365.2,989.8 L366.4,988.8 L367.7,988.6 L368.9,988.8 L370.2,988.7 L371.4,988.5 L372.7,987.3 L374.0,988.5 L375.3,988.9 L376.6,990.2 L377.8,990.4 L379.0,990.7 L380.2,989.8 L381.4,990.5 L382.6,990.5 L383.8,990.7 L385.0,990.8 L386.2,991.7 L387.4,992.3 L388.6,992.6 L389.8,993.3 L391.0,994.4 L392.5,991.9 L393.9,990.8 L395.4,988.6 L396.5,989.7 L397.6,992.5 L398.7,994.0 L399.9,995.2 L401.1,996.7 L402.3,999.7 L403.5,1000.7 L404.7,1001.5 L405.9,1003.8 L407.1,1004.9 L408.3,1005.6 L409.8,1006.9 L411.2,1006.5 L412.7,1007.6 L414.1,1008.4 L415.3,1008.5 L416.5,1010.5 L417.7,1011.1 L418.9,1011.3 L420.1,1012.1 L421.3,1012.4 L422.5,1012.8 L423.7,1013.6 L424.9,1014.7 L426.1,1014.9 L427.4,1015.7 L428.6,1016.2 L429.9,1015.2 L431.1,1014.8 L432.4,1014.8 L433.9,1010.9 L435.3,1008.4 L436.5,1007.4 L437.7,1005.9 L438.9,1004.0 L440.1,1003.2 L441.3,1003.1 L442.5,1001.6 L443.7,1001.2 L444.9,1000.7 L446.1,1000.0 L447.3,999.9 L448.5,1000.5 L449.7,999.8 L451.1,999.1 L452.6,998.4 L454.1,998.4 L455.5,997.9 L456.7,997.7 L457.9,998.7 L459.1,997.5 L460.3,998.2 L461.5,998.7 L462.8,997.2 L464.0,998.3 L465.2,997.5 L466.4,997.9 L467.6,997.3 L468.8,997.8 L470.0,997.9 L471.2,997.3 L472.4,997.0 L473.6,996.7 L474.8,996.9 L476.1,994.1 L477.3,992.5 L478.6,989.2 L479.9,991.2 L481.2,992.4 L482.5,993.0 L483.7,993.7 L484.9,995.3 L486.1,997.5 L487.3,998.2 L488.5,998.4 L489.7,1000.3 L490.9,1000.5 L492.1,1001.7 L493.6,1003.2 L495.2,1003.2 L496.8,1002.0 L498.3,1002.2 L499.7,1003.7 L501.0,1004.0 L502.4,1005.3 L503.7,1005.2 L504.9,1005.4 L506.2,1007.0 L507.4,1006.9 L508.7,1007.3 L509.9,1007.2 L511.2,1008.0 L512.4,1009.2 L513.7,1008.6 L514.9,1009.4 L516.3,1008.5 L517.6,1006.8 L519.0,1006.3 L520.3,1005.5 L521.5,1006.1 L522.8,1005.8 L524.0,1004.7 L525.3,1004.9 L526.5,1004.2 L527.8,1004.2 L529.0,1004.9 L530.3,1004.7 L531.5,1004.6 L532.7,1004.4 L534.0,1004.4 L535.2,1005.2 L536.5,1005.5 L537.7,1005.3 L539.2,1004.7 L540.8,1003.2 L542.3,1004.9 L543.9,1006.3 L545.2,1005.9 L546.4,1005.8 L547.7,1006.9 L548.9,1006.5 L550.2,1006.7 L551.4,1007.0 L552.7,1006.0 L553.9,1007.2 L555.2,1006.5 L556.4,1006.7 L558.0,1006.0 L559.5,1004.2 L561.0,1002.5 L562.6,999.7 L564.0,1000.2 L565.3,999.9 L566.7,1001.1 L568.0,1002.0 L569.2,1001.7 L570.5,1002.6 L571.7,1001.9 L573.0,1002.6 L574.2,1002.4 L575.5,1003.6 L576.7,1003.1 L578.0,1003.1 L579.2,1003.8 L580.2,1002.8 L581.3,1002.2 L582.7,1003.4 L584.0,1003.5 L585.4,1005.3 L586.6,1005.5 L587.9,1005.6 L589.1,1005.9 L590.4,1005.5 L591.6,1006.3 L592.9,1006.9 L594.2,1007.3 L595.5,1007.6 L596.8,1007.3 L598.1,1006.3 L599.4,1006.1 L600.7,1004.8 L602.0,1004.2 L603.2,1004.6 L604.5,1003.5 L605.7,1004.8 L607.0,1004.9 L608.2,1004.2 L609.5,1004.4 L610.7,1004.7 L612.0,1004.9 L613.2,1005.1 L614.5,1005.3 L615.7,1005.0 L617.0,1006.8 L618.2,1006.1 L619.5,1006.4 L620.7,1007.3" fill="none" stroke="#000" stroke-width="3.1" stroke-linejoin="round" stroke-linecap="round"/>
<path d="M121.7,1114.0 L125.6,1121.7 L129.4,1129.4 L133.3,1138.1 L138.1,1141.0 L142.9,1140.0 L147.7,1136.2 L152.6,1129.4 L156.4,1121.7 L160.3,1115.0 L163.2,1109.2 L166.0,1100.5 L168.9,1098.6 L173.7,1101.5 L178.6,1104.4 L183.4,1109.2 L188.2,1115.9 L193.0,1122.7 L197.8,1127.5 L202.6,1129.4 L205.1,1119.8 L209.4,1121.7 L214.2,1120.7 L219.0,1120.7 L223.8,1118.8 L227.7,1112.1 L230.6,1100.5 L234.4,1095.7 L239.2,1094.7 L243.9,1095.7 L246.7,1089.0 L249.6,1095.7 L254.4,1102.4 L259.3,1108.2 L264.1,1111.1 L267.0,1113.0 L270.8,1105.3 L275.6,1108.2 L280.4,1109.2 L286.2,1109.2 L289.1,1095.7 L292.0,1100.5 L296.8,1099.6 L301.6,1101.5 L306.4,1102.4 L311.3,1098.6 L316.1,1095.7 L319.9,1094.7 L324.7,1096.7 L328.6,1098.6 L330.9,1092.8 L333.4,1099.6 L338.2,1102.4 L343.0,1108.2 L346.9,1111.1 L350.7,1107.3 L354.6,1099.6 L359.4,1097.6 L364.2,1097.6 L369.8,1097.6 L372.3,1090.9 L375.6,1095.7 L380.4,1096.7 L385.2,1100.5 L389.7,1103.4 L392.9,1100.5 L396.8,1097.6 L401.6,1098.6 L407.4,1099.6 L412.2,1101.5 L414.1,1093.8 L417.0,1098.6 L421.8,1102.4 L426.6,1107.3 L430.5,1108.2 L434.3,1105.3 L439.2,1099.6 L444.0,1095.7 L449.7,1096.7 L453.6,1098.6 L455.9,1092.8 L459.4,1098.6 L464.2,1100.5 L469.0,1104.4 L472.9,1105.3 L475.7,1100.5 L479.6,1095.7 L484.4,1096.7 L489.2,1098.6 L494.1,1098.3 L497.3,1093.1 L501.4,1097.3 L506.6,1100.4 L511.8,1103.5 L517.0,1102.4 L523.2,1099.3 L528.4,1096.2 L533.6,1098.3 L537.3,1099.3 L538.7,1095.2 L541.9,1100.4 L547.0,1104.5 L552.2,1107.6 L557.4,1105.6 L562.6,1101.4 L568.8,1098.3 L575.0,1098.3 L579.2,1101.4 L581.3,1095.2 L585.4,1099.3 L590.6,1102.4 L595.8,1105.6 L601.0,1104.5 L606.2,1102.4 L611.3,1100.4 L615.5,1101.4 L620.3,1104.5 L620.3,1118.0 L615.5,1114.9 L611.3,1113.9 L606.2,1117.0 L601.0,1120.1 L595.8,1121.1 L590.6,1118.0 L585.4,1114.9 L581.3,1105.6 L579.2,1115.9 L575.0,1112.8 L568.8,1112.8 L562.6,1115.9 L557.4,1121.1 L552.2,1124.2 L547.0,1121.1 L541.9,1114.9 L538.7,1106.6 L537.3,1112.8 L533.6,1111.8 L528.4,1109.7 L523.2,1112.8 L517.0,1118.0 L511.8,1120.1 L506.6,1117.0 L501.4,1111.8 L497.3,1106.6 L494.1,1112.8 L489.2,1112.1 L484.4,1110.2 L479.6,1108.2 L475.7,1114.0 L472.9,1119.8 L469.0,1118.8 L464.2,1115.0 L459.4,1113.0 L455.9,1103.4 L453.6,1111.1 L449.7,1109.2 L444.0,1108.2 L439.2,1113.0 L434.3,1119.8 L430.5,1126.5 L426.6,1123.6 L421.8,1117.9 L417.0,1112.1 L414.1,1105.3 L412.2,1115.0 L407.4,1113.0 L401.6,1111.1 L396.8,1111.1 L392.9,1115.0 L389.7,1120.7 L385.2,1117.9 L380.4,1113.0 L375.6,1109.2 L372.3,1100.5 L369.8,1112.1 L364.2,1111.1 L359.4,1111.1 L354.6,1115.0 L350.7,1123.6 L346.9,1129.4 L343.0,1126.5 L338.2,1120.7 L333.4,1115.9 L330.9,1108.2 L328.6,1115.0 L324.7,1114.0 L319.9,1111.1 L316.1,1113.0 L311.3,1116.9 L306.4,1121.7 L301.6,1121.7 L296.8,1119.8 L292.0,1119.8 L289.1,1113.0 L286.2,1124.6 L280.4,1124.6 L275.6,1123.6 L270.8,1121.7 L267.0,1130.4 L264.1,1129.4 L259.3,1125.6 L254.4,1120.7 L249.6,1113.0 L246.7,1104.4 L243.9,1114.0 L239.2,1113.0 L234.4,1114.0 L230.6,1121.7 L227.7,1133.3 L223.8,1142.9 L219.0,1148.7 L214.2,1147.7 L209.4,1146.7 L205.1,1138.1 L202.6,1153.5 L197.8,1151.6 L193.0,1147.7 L188.2,1141.9 L183.4,1134.2 L178.6,1127.5 L173.7,1121.7 L168.9,1117.9 L166.0,1125.6 L163.2,1135.2 L160.3,1142.9 L156.4,1151.6 L152.6,1160.2 L147.7,1169.9 L142.9,1175.6 L138.1,1175.6 L133.3,1171.8 L129.4,1166.0 L125.6,1158.3 L121.7,1150.6 Z" fill="url(#eb)" />
<path d="M121.7,1130.4 L123.0,1132.4 L124.3,1135.2 L125.6,1138.1 L126.9,1140.8 L128.1,1141.9 L129.4,1144.8 L130.7,1146.5 L132.0,1149.6 L133.3,1151.6 L134.5,1151.9 L135.7,1152.3 L136.9,1153.9 L138.1,1154.5 L139.3,1154.4 L140.5,1154.0 L141.7,1154.1 L142.9,1153.5 L144.1,1151.7 L145.3,1151.7 L146.5,1150.2 L147.7,1148.7 L148.9,1146.1 L150.1,1144.3 L151.4,1142.9 L152.6,1141.0 L153.9,1138.7 L155.1,1136.1 L156.4,1134.2 L157.7,1131.1 L159.0,1128.9 L160.3,1126.5 L161.8,1123.1 L163.2,1120.7 L164.6,1115.6 L166.0,1110.2 L167.4,1109.3 L168.9,1107.3 L170.1,1107.5 L171.3,1108.9 L172.5,1109.8 L173.7,1110.2 L174.9,1110.6 L176.1,1112.6 L177.4,1113.7 L178.6,1114.0 L179.8,1115.3 L181.0,1116.8 L182.2,1118.9 L183.4,1119.8 L184.6,1121.8 L185.8,1123.5 L187.0,1126.2 L188.2,1127.5 L189.4,1129.6 L190.6,1130.6 L191.8,1132.1 L193.0,1134.2 L194.2,1135.2 L195.4,1136.5 L196.6,1138.5 L197.8,1139.0 L199.0,1140.1 L200.2,1140.8 L201.4,1141.3 L202.6,1141.4 L203.8,1135.4 L205.1,1128.4 L206.5,1129.4 L208.0,1131.7 L209.4,1133.3 L210.6,1134.1 L211.8,1134.1 L213.0,1133.1 L214.2,1133.6 L215.4,1133.4 L216.6,1133.6 L217.8,1133.2 L219.0,1133.3 L220.2,1132.1 L221.4,1130.2 L222.6,1129.5 L223.8,1128.4 L225.1,1125.8 L226.4,1122.5 L227.7,1120.7 L229.1,1115.4 L230.6,1111.1 L231.9,1109.9 L233.1,1107.6 L234.4,1105.3 L235.6,1105.5 L236.8,1104.5 L238.0,1104.3 L239.2,1103.4 L240.4,1104.1 L241.6,1104.3 L242.7,1103.2 L243.9,1104.0 L245.3,1100.4 L246.7,1096.3 L248.1,1099.5 L249.6,1103.4 L250.8,1105.6 L252.0,1106.9 L253.2,1109.2 L254.4,1111.1 L255.6,1113.2 L256.9,1114.2 L258.1,1115.1 L259.3,1116.9 L260.5,1117.6 L261.7,1118.1 L262.9,1119.5 L264.1,1119.4 L265.6,1119.7 L267.0,1120.7 L268.3,1117.7 L269.5,1115.5 L270.8,1112.5 L272.0,1112.6 L273.2,1113.9 L274.4,1115.1 L275.6,1115.0 L276.8,1115.2 L278.0,1115.1 L279.2,1115.6 L280.4,1115.9 L281.8,1116.0 L283.3,1115.4 L284.8,1115.3 L286.2,1115.9 L287.6,1109.1 L289.1,1103.4 L290.6,1105.5 L292.0,1108.2 L293.2,1108.0 L294.4,1107.7 L295.6,1107.5 L296.8,1107.8 L298.0,1107.8 L299.2,1109.1 L300.4,1110.1 L301.6,1110.2 L302.8,1110.7 L304.0,1111.1 L305.2,1111.6 L306.4,1111.7 L307.6,1110.2 L308.9,1109.8 L310.1,1108.3 L311.3,1107.3 L312.5,1106.4 L313.7,1105.5 L314.9,1104.3 L316.1,1103.4 L317.4,1102.5 L318.6,1101.7 L319.9,1101.5 L321.1,1101.9 L322.3,1103.2 L323.5,1103.8 L324.7,1104.8 L326.0,1105.6 L327.3,1105.3 L328.6,1106.7 L329.8,1102.9 L330.9,1099.6 L332.1,1104.0 L333.4,1107.3 L334.6,1107.9 L335.8,1109.3 L337.0,1110.1 L338.2,1111.1 L339.4,1112.2 L340.6,1114.7 L341.8,1115.1 L343.0,1116.9 L344.3,1118.1 L345.6,1118.1 L346.9,1119.4 L348.2,1117.3 L349.4,1117.0 L350.7,1115.0 L352.0,1112.3 L353.3,1109.2 L354.6,1107.3 L355.8,1106.3 L357.0,1105.6 L358.2,1105.2 L359.4,1104.0 L360.6,1103.4 L361.8,1103.6 L363.0,1104.7 L364.2,1104.0 L365.6,1104.6 L367.0,1103.9 L368.4,1104.4 L369.8,1104.8 L371.1,1099.1 L372.3,1093.8 L373.4,1096.6 L374.5,1099.1 L375.6,1101.5 L376.8,1102.5 L378.0,1102.9 L379.2,1103.0 L380.4,1103.4 L381.6,1105.0 L382.8,1106.2 L384.0,1107.4 L385.2,1108.2 L386.7,1109.3 L388.2,1111.0 L389.7,1111.7 L391.3,1109.8 L392.9,1107.3 L394.2,1106.6 L395.5,1104.1 L396.8,1103.4 L398.0,1104.2 L399.2,1103.2 L400.4,1104.5 L401.6,1104.4 L403.1,1104.9 L404.5,1105.1 L405.9,1106.2 L407.4,1105.9 L408.6,1106.5 L409.8,1106.7 L411.0,1107.8 L412.2,1107.8 L414.1,1098.6 L415.6,1102.1 L417.0,1104.4 L418.2,1105.8 L419.4,1106.6 L420.6,1107.9 L421.8,1109.2 L423.0,1110.4 L424.2,1112.1 L425.4,1112.8 L426.6,1114.4 L427.9,1114.9 L429.2,1115.7 L430.5,1116.3 L431.8,1114.9 L433.0,1113.5 L434.3,1112.5 L435.5,1111.3 L436.8,1109.7 L438.0,1107.5 L439.2,1105.9 L440.4,1104.7 L441.6,1103.2 L442.8,1102.3 L444.0,1101.5 L445.4,1101.1 L446.9,1101.9 L448.3,1102.1 L449.7,1102.1 L451.0,1102.2 L452.3,1104.3 L453.6,1104.4 L454.8,1100.3 L455.9,1096.7 L457.1,1099.9 L458.2,1102.6 L459.4,1104.8 L460.6,1106.0 L461.8,1105.3 L463.0,1106.1 L464.2,1106.7 L465.4,1108.4 L466.6,1108.2 L467.8,1109.3 L469.0,1111.1 L470.3,1111.4 L471.6,1111.5 L472.9,1111.7 L474.3,1110.1 L475.7,1107.3 L477.0,1105.8 L478.3,1103.5 L479.6,1101.5 L480.8,1102.6 L482.0,1102.2 L483.2,1102.5 L484.4,1102.8 L485.6,1103.5 L486.8,1103.4 L488.0,1103.8 L489.2,1104.4 L490.4,1104.8 L491.6,1104.8 L492.9,1106.0 L494.1,1105.6 L495.7,1102.7 L497.3,1099.3 L498.7,1101.1 L500.0,1102.2 L501.4,1104.5 L502.7,1105.4 L504.0,1106.5 L505.3,1107.7 L506.6,1108.7 L507.9,1109.6 L509.2,1110.8 L510.5,1111.7 L511.8,1111.8 L513.1,1111.3 L514.4,1110.7 L515.7,1110.4 L517.0,1109.7 L518.2,1109.6 L519.5,1107.8 L520.7,1107.3 L522.0,1106.9 L523.2,1105.6 L524.5,1104.3 L525.8,1103.7 L527.1,1103.9 L528.4,1102.4 L529.7,1103.4 L531.0,1103.5 L532.3,1103.4 L533.6,1104.5 L534.8,1105.6 L536.1,1105.8 L537.3,1106.0 L538.7,1100.4 L540.3,1104.5 L541.9,1107.6 L543.2,1109.6 L544.5,1110.8 L545.7,1111.4 L547.0,1112.8 L548.3,1113.1 L549.6,1114.0 L550.9,1115.1 L552.2,1115.9 L553.5,1115.3 L554.8,1114.2 L556.1,1113.5 L557.4,1113.4 L558.7,1112.4 L560.0,1111.2 L561.3,1109.7 L562.6,1108.7 L563.8,1108.7 L565.1,1107.5 L566.3,1105.9 L567.6,1105.7 L568.8,1105.1 L570.0,1105.6 L571.3,1105.0 L572.5,1105.7 L573.8,1104.8 L575.0,1105.6 L576.4,1106.3 L577.8,1108.2 L579.2,1108.7 L580.2,1104.1 L581.3,1099.3 L582.7,1102.0 L584.0,1103.7 L585.4,1106.6 L586.7,1107.5 L588.0,1108.4 L589.3,1108.9 L590.6,1110.1 L591.9,1111.0 L593.2,1111.5 L594.5,1112.9 L595.8,1112.8 L597.1,1112.7 L598.4,1112.2 L599.7,1111.5 L601.0,1111.8 L602.3,1110.7 L603.6,1110.9 L604.9,1109.3 L606.2,1109.3 L607.5,1108.2 L608.8,1107.8 L610.0,1107.8 L611.3,1107.2 L612.7,1108.0 L614.1,1108.0 L615.5,1108.1 L616.7,1109.4 L617.9,1109.1 L619.1,1109.8 L620.3,1111.4" fill="none" stroke="#000" stroke-width="3.1" stroke-linejoin="round" stroke-linecap="round"/>
<line x1="121.8" y1="943.7" x2="121.8" y2="1184" stroke="#000" stroke-width="2"/>
<line x1="116.1" y1="1183" x2="621.1" y2="1183" stroke="#000" stroke-width="2.2"/>
<line x1="116.1" y1="1064.7" x2="621.1" y2="1064.7" stroke="#000" stroke-width="2.2"/>
<line x1="116.1" y1="959.7" x2="121.8" y2="959.7" stroke="#000" stroke-width="2"/>
<text x="105" y="966.4" font-size="18.7" text-anchor="end">4000</text>
<line x1="116.1" y1="1065" x2="121.8" y2="1065" stroke="#000" stroke-width="2"/>
<text x="105" y="1071.7" font-size="18.7" text-anchor="end">40</text>
<line x1="116.1" y1="1092.4" x2="121.8" y2="1092.4" stroke="#000" stroke-width="2"/>
<text x="105" y="1099.1" font-size="18.7" text-anchor="end">4000</text>
<line x1="116.1" y1="1182.8" x2="121.8" y2="1182.8" stroke="#000" stroke-width="2"/>
<text x="105" y="1189.5" font-size="18.7" text-anchor="end">400</text>
<text x="120.9" y="1214.7" font-size="18.7" text-anchor="middle">0</text>
<text x="205.6" y="1214.7" font-size="18.7" text-anchor="middle">24</text>
<text x="247.3" y="1214.7" font-size="18.7" text-anchor="middle">36</text>
<text x="289.1" y="1214.7" font-size="18.7" text-anchor="middle">48</text>
<text x="330.4" y="1214.7" font-size="18.7" text-anchor="middle">60</text>
<text x="371.3" y="1214.7" font-size="18.7" text-anchor="middle">72</text>
<text x="415" y="1214.7" font-size="18.7" text-anchor="middle">84</text>
<text x="456" y="1214.7" font-size="18.7" text-anchor="middle">96</text>
<text x="498" y="1214.7" font-size="18.7" text-anchor="middle">108</text>
<text x="539" y="1214.7" font-size="18.7" text-anchor="middle">120</text>
<text x="582.2" y="1214.7" font-size="18.7" text-anchor="middle">132</text>
<text x="621.8" y="1214.7" font-size="18.7" text-anchor="middle">144</text>
<text x="561.2" y="961.8" font-size="18.6">Control</text>
<text x="502.4" y="1083.7" font-size="18.6" font-style="italic">LgELF3-RNAi</text>
<text x="7.7" y="960.9" font-size="31">d</text>
<text transform="translate(22,1065.4) rotate(-90)" font-size="24.5" text-anchor="middle">Luminescence</text>
<text transform="translate(48.6,1065.4) rotate(-90)" font-size="24.5" text-anchor="middle">(counts s<tspan font-size="16" dy="-7.5">-1</tspan><tspan dy="7.5">)</tspan></text>
</g>
<text x="374.2" y="1257" font-size="24.8" text-anchor="middle">Time (h)</text>
</svg>
</body></html>
